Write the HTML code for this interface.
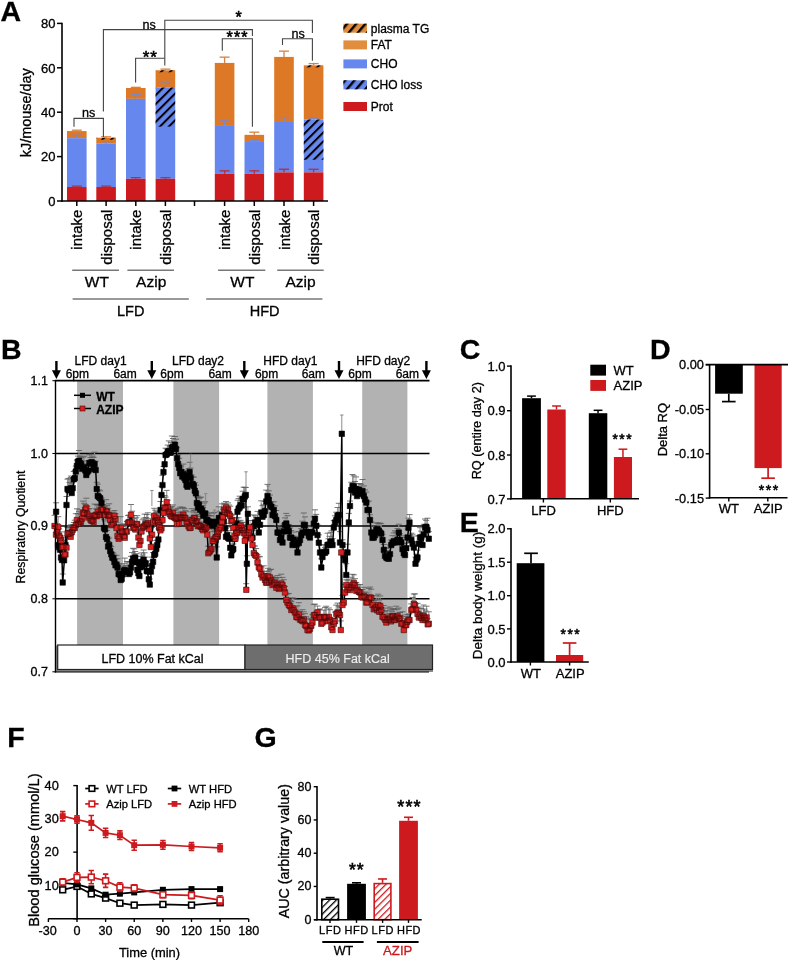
<!DOCTYPE html>
<html><head><meta charset="utf-8"><style>
html,body{margin:0;padding:0;background:#fff;}
svg{display:block;font-family:"Liberation Sans", sans-serif;will-change:transform;}
text{stroke:#000;stroke-width:0.3px;}
text[fill="#cc1a1e"]{stroke:#cc1a1e;}
text[fill="#eee"]{stroke:#eee;stroke-width:0.15px;}
</style></head><body>
<svg width="789" height="960" viewBox="0 0 789 960">
<defs>
<pattern id="hatchA" patternUnits="userSpaceOnUse" width="6.3" height="6.3" patternTransform="rotate(45)"><rect width="2.0" height="6.3" fill="#000"/></pattern>
<pattern id="hatchL" patternUnits="userSpaceOnUse" width="7" height="7" patternTransform="rotate(40)"><rect width="2.4" height="7" fill="#000"/></pattern>
<pattern id="hatchGk" patternUnits="userSpaceOnUse" width="4.8" height="4.8" patternTransform="rotate(45)"><rect width="4.8" height="4.8" fill="#fff"/><rect width="1.3" height="4.8" fill="#000"/></pattern>
<pattern id="hatchGr" patternUnits="userSpaceOnUse" width="4.8" height="4.8" patternTransform="rotate(45)"><rect width="4.8" height="4.8" fill="#fff"/><rect width="1.3" height="4.8" fill="#cc1a1e"/></pattern>
</defs>
<rect width="789" height="960" fill="#fff"/>
<text x="0.45" y="20.9" font-size="28.5" text-anchor="start" font-weight="bold" fill="#000" >A</text>
<line x1="62" y1="22.7" x2="62" y2="201.7" stroke="#000" stroke-width="1.6" />
<line x1="57" y1="201.0" x2="62" y2="201.0" stroke="#000" stroke-width="1.5" />
<text x="55.5" y="205.7" font-size="13" text-anchor="end" font-weight="normal" fill="#000" >0</text>
<line x1="57" y1="156.60000000000002" x2="62" y2="156.60000000000002" stroke="#000" stroke-width="1.5" />
<text x="55.5" y="161.3" font-size="13" text-anchor="end" font-weight="normal" fill="#000" >20</text>
<line x1="57" y1="112.20000000000002" x2="62" y2="112.20000000000002" stroke="#000" stroke-width="1.5" />
<text x="55.5" y="116.90000000000002" font-size="13" text-anchor="end" font-weight="normal" fill="#000" >40</text>
<line x1="57" y1="67.80000000000001" x2="62" y2="67.80000000000001" stroke="#000" stroke-width="1.5" />
<text x="55.5" y="72.50000000000001" font-size="13" text-anchor="end" font-weight="normal" fill="#000" >60</text>
<line x1="57" y1="23.400000000000034" x2="62" y2="23.400000000000034" stroke="#000" stroke-width="1.5" />
<text x="55.5" y="28.100000000000033" font-size="13" text-anchor="end" font-weight="normal" fill="#000" >80</text>
<text x="31.4" y="112.8" font-size="14.4" text-anchor="middle" font-weight="normal" fill="#000" transform="rotate(-90 31.4 112.8)" >kJ/mouse/day</text>
<rect x="67.0" y="131.07" width="19.6" height="7.104000000000013" fill="#dc7826" />
<rect x="67.0" y="138.174" width="19.6" height="48.84" fill="#6688ee" />
<rect x="67.0" y="187.014" width="19.6" height="13.98599999999999" fill="#cc1a1e" />
<line x1="76.8" y1="187.014" x2="76.8" y2="186.126" stroke="#b03040" stroke-width="1.3" />
<line x1="71.8" y1="186.126" x2="81.8" y2="186.126" stroke="#b03040" stroke-width="1.3" />
<line x1="76.8" y1="138.174" x2="76.8" y2="135.288" stroke="#7a88c8" stroke-width="1.3" />
<line x1="71.8" y1="135.288" x2="81.8" y2="135.288" stroke="#7a88c8" stroke-width="1.3" />
<line x1="76.8" y1="131.07" x2="76.8" y2="130.18200000000002" stroke="#d88040" stroke-width="1.3" />
<line x1="71.8" y1="130.18200000000002" x2="81.8" y2="130.18200000000002" stroke="#d88040" stroke-width="1.3" />
<rect x="96.3" y="137.73000000000002" width="19.6" height="5.993999999999971" fill="#dc7826" />
<rect x="96.3" y="143.724" width="19.6" height="43.29000000000002" fill="#6688ee" />
<rect x="96.3" y="187.014" width="19.6" height="13.98599999999999" fill="#cc1a1e" />
<rect x="96.3" y="137.73000000000002" width="19.6" height="2" fill="url(#hatchA)" />
<line x1="106.1" y1="187.014" x2="106.1" y2="186.126" stroke="#b03040" stroke-width="1.3" />
<line x1="101.1" y1="186.126" x2="111.1" y2="186.126" stroke="#b03040" stroke-width="1.3" />
<line x1="106.1" y1="143.724" x2="106.1" y2="141.726" stroke="#7a88c8" stroke-width="1.3" />
<line x1="101.1" y1="141.726" x2="111.1" y2="141.726" stroke="#7a88c8" stroke-width="1.3" />
<line x1="106.1" y1="137.73000000000002" x2="106.1" y2="136.842" stroke="#d88040" stroke-width="1.3" />
<line x1="101.1" y1="136.842" x2="111.1" y2="136.842" stroke="#d88040" stroke-width="1.3" />
<rect x="126.0" y="88.00200000000001" width="19.6" height="10.878" fill="#dc7826" />
<rect x="126.0" y="98.88000000000001" width="19.6" height="79.92" fill="#6688ee" />
<rect x="126.0" y="178.8" width="19.6" height="22.19999999999999" fill="#cc1a1e" />
<line x1="135.8" y1="178.8" x2="135.8" y2="177.69" stroke="#b03040" stroke-width="1.3" />
<line x1="130.8" y1="177.69" x2="140.8" y2="177.69" stroke="#b03040" stroke-width="1.3" />
<line x1="135.8" y1="98.88000000000001" x2="135.8" y2="94.44000000000001" stroke="#7a88c8" stroke-width="1.3" />
<line x1="130.8" y1="94.44000000000001" x2="140.8" y2="94.44000000000001" stroke="#7a88c8" stroke-width="1.3" />
<line x1="135.8" y1="88.00200000000001" x2="135.8" y2="87.33600000000003" stroke="#d88040" stroke-width="1.3" />
<line x1="130.8" y1="87.33600000000003" x2="140.8" y2="87.33600000000003" stroke="#d88040" stroke-width="1.3" />
<rect x="155.6" y="70.24200000000002" width="19.6" height="17.31599999999999" fill="#dc7826" />
<rect x="155.6" y="87.558" width="19.6" height="91.242" fill="#6688ee" />
<rect x="155.6" y="178.8" width="19.6" height="22.19999999999999" fill="#cc1a1e" />
<rect x="155.6" y="87.558" width="19.6" height="39.072" fill="url(#hatchA)" />
<rect x="155.6" y="70.24200000000002" width="19.6" height="2" fill="url(#hatchA)" />
<line x1="165.4" y1="178.8" x2="165.4" y2="177.69" stroke="#b03040" stroke-width="1.3" />
<line x1="160.4" y1="177.69" x2="170.4" y2="177.69" stroke="#b03040" stroke-width="1.3" />
<line x1="165.4" y1="87.558" x2="165.4" y2="83.11800000000001" stroke="#7a88c8" stroke-width="1.3" />
<line x1="160.4" y1="83.11800000000001" x2="170.4" y2="83.11800000000001" stroke="#7a88c8" stroke-width="1.3" />
<line x1="165.4" y1="70.24200000000002" x2="165.4" y2="69.132" stroke="#d88040" stroke-width="1.3" />
<line x1="160.4" y1="69.132" x2="170.4" y2="69.132" stroke="#d88040" stroke-width="1.3" />
<rect x="214.8" y="62.916" width="19.6" height="62.16000000000001" fill="#dc7826" />
<rect x="214.8" y="125.07600000000001" width="19.6" height="48.61800000000001" fill="#6688ee" />
<rect x="214.8" y="173.69400000000002" width="19.6" height="27.305999999999983" fill="#cc1a1e" />
<line x1="224.60000000000002" y1="173.69400000000002" x2="224.60000000000002" y2="170.808" stroke="#b03040" stroke-width="1.3" />
<line x1="219.60000000000002" y1="170.808" x2="229.60000000000002" y2="170.808" stroke="#b03040" stroke-width="1.3" />
<line x1="224.60000000000002" y1="125.07600000000001" x2="224.60000000000002" y2="120.858" stroke="#7a88c8" stroke-width="1.3" />
<line x1="219.60000000000002" y1="120.858" x2="229.60000000000002" y2="120.858" stroke="#7a88c8" stroke-width="1.3" />
<line x1="224.60000000000002" y1="62.916" x2="224.60000000000002" y2="57.144000000000034" stroke="#d88040" stroke-width="1.3" />
<line x1="219.60000000000002" y1="57.144000000000034" x2="229.60000000000002" y2="57.144000000000034" stroke="#d88040" stroke-width="1.3" />
<rect x="244.5" y="134.844" width="19.6" height="7.104000000000013" fill="#dc7826" />
<rect x="244.5" y="141.948" width="19.6" height="31.74600000000001" fill="#6688ee" />
<rect x="244.5" y="173.69400000000002" width="19.6" height="27.305999999999983" fill="#cc1a1e" />
<line x1="254.3" y1="173.69400000000002" x2="254.3" y2="170.808" stroke="#b03040" stroke-width="1.3" />
<line x1="249.3" y1="170.808" x2="259.3" y2="170.808" stroke="#b03040" stroke-width="1.3" />
<line x1="254.3" y1="141.948" x2="254.3" y2="140.61599999999999" stroke="#7a88c8" stroke-width="1.3" />
<line x1="249.3" y1="140.61599999999999" x2="259.3" y2="140.61599999999999" stroke="#7a88c8" stroke-width="1.3" />
<line x1="254.3" y1="134.844" x2="254.3" y2="132.18" stroke="#d88040" stroke-width="1.3" />
<line x1="249.3" y1="132.18" x2="259.3" y2="132.18" stroke="#d88040" stroke-width="1.3" />
<rect x="274.2" y="56.922" width="19.6" height="65.046" fill="#dc7826" />
<rect x="274.2" y="121.968" width="19.6" height="50.39399999999999" fill="#6688ee" />
<rect x="274.2" y="172.362" width="19.6" height="28.638000000000005" fill="#cc1a1e" />
<line x1="284.0" y1="172.362" x2="284.0" y2="169.254" stroke="#b03040" stroke-width="1.3" />
<line x1="279.0" y1="169.254" x2="289.0" y2="169.254" stroke="#b03040" stroke-width="1.3" />
<line x1="284.0" y1="121.968" x2="284.0" y2="117.528" stroke="#7a88c8" stroke-width="1.3" />
<line x1="279.0" y1="117.528" x2="289.0" y2="117.528" stroke="#7a88c8" stroke-width="1.3" />
<line x1="284.0" y1="56.922" x2="284.0" y2="51.150000000000006" stroke="#d88040" stroke-width="1.3" />
<line x1="279.0" y1="51.150000000000006" x2="289.0" y2="51.150000000000006" stroke="#d88040" stroke-width="1.3" />
<rect x="303.8" y="65.358" width="19.6" height="54.16799999999999" fill="#dc7826" />
<rect x="303.8" y="119.526" width="19.6" height="52.836" fill="#6688ee" />
<rect x="303.8" y="172.362" width="19.6" height="28.638000000000005" fill="#cc1a1e" />
<rect x="303.8" y="119.526" width="19.6" height="40.182" fill="url(#hatchA)" />
<rect x="303.8" y="65.358" width="19.6" height="2" fill="url(#hatchA)" />
<line x1="313.6" y1="172.362" x2="313.6" y2="169.254" stroke="#b03040" stroke-width="1.3" />
<line x1="308.6" y1="169.254" x2="318.6" y2="169.254" stroke="#b03040" stroke-width="1.3" />
<line x1="313.6" y1="119.526" x2="313.6" y2="118.194" stroke="#7a88c8" stroke-width="1.3" />
<line x1="308.6" y1="118.194" x2="318.6" y2="118.194" stroke="#7a88c8" stroke-width="1.3" />
<line x1="313.6" y1="65.358" x2="313.6" y2="63.58200000000002" stroke="#d88040" stroke-width="1.3" />
<line x1="308.6" y1="63.58200000000002" x2="318.6" y2="63.58200000000002" stroke="#d88040" stroke-width="1.3" />
<line x1="61.2" y1="201.0" x2="328" y2="201.0" stroke="#000" stroke-width="1.6" />
<line x1="76.8" y1="201.0" x2="76.8" y2="206" stroke="#000" stroke-width="1.5" />
<line x1="106.1" y1="201.0" x2="106.1" y2="206" stroke="#000" stroke-width="1.5" />
<line x1="135.8" y1="201.0" x2="135.8" y2="206" stroke="#000" stroke-width="1.5" />
<line x1="165.4" y1="201.0" x2="165.4" y2="206" stroke="#000" stroke-width="1.5" />
<line x1="194.5" y1="201.0" x2="194.5" y2="206" stroke="#000" stroke-width="1.5" />
<line x1="224.6" y1="201.0" x2="224.6" y2="206" stroke="#000" stroke-width="1.5" />
<line x1="254.3" y1="201.0" x2="254.3" y2="206" stroke="#000" stroke-width="1.5" />
<line x1="284.0" y1="201.0" x2="284.0" y2="206" stroke="#000" stroke-width="1.5" />
<line x1="313.6" y1="201.0" x2="313.6" y2="206" stroke="#000" stroke-width="1.5" />
<text x="82.39999999999999" y="209.6" font-size="15" text-anchor="end" font-weight="normal" fill="#000" transform="rotate(-90 82.39999999999999 209.6)" >intake</text>
<text x="111.69999999999999" y="209.6" font-size="15" text-anchor="end" font-weight="normal" fill="#000" transform="rotate(-90 111.69999999999999 209.6)" >disposal</text>
<text x="141.4" y="209.6" font-size="15" text-anchor="end" font-weight="normal" fill="#000" transform="rotate(-90 141.4 209.6)" >intake</text>
<text x="171.0" y="209.6" font-size="15" text-anchor="end" font-weight="normal" fill="#000" transform="rotate(-90 171.0 209.6)" >disposal</text>
<text x="230.20000000000002" y="209.6" font-size="15" text-anchor="end" font-weight="normal" fill="#000" transform="rotate(-90 230.20000000000002 209.6)" >intake</text>
<text x="259.90000000000003" y="209.6" font-size="15" text-anchor="end" font-weight="normal" fill="#000" transform="rotate(-90 259.90000000000003 209.6)" >disposal</text>
<text x="289.6" y="209.6" font-size="15" text-anchor="end" font-weight="normal" fill="#000" transform="rotate(-90 289.6 209.6)" >intake</text>
<text x="319.20000000000005" y="209.6" font-size="15" text-anchor="end" font-weight="normal" fill="#000" transform="rotate(-90 319.20000000000005 209.6)" >disposal</text>
<line x1="72.2" y1="270.2" x2="119" y2="270.2" stroke="#777" stroke-width="1.4" />
<text x="96.9" y="286.5" font-size="15.5" text-anchor="middle" font-weight="normal" fill="#000" >WT</text>
<line x1="127.4" y1="270.2" x2="174" y2="270.2" stroke="#777" stroke-width="1.4" />
<text x="151.2" y="286.5" font-size="15.5" text-anchor="middle" font-weight="normal" fill="#000" >Azip</text>
<line x1="218.1" y1="270.2" x2="265.3" y2="270.2" stroke="#777" stroke-width="1.4" />
<text x="242.4" y="286.5" font-size="15.5" text-anchor="middle" font-weight="normal" fill="#000" >WT</text>
<line x1="277.2" y1="270.2" x2="323.7" y2="270.2" stroke="#777" stroke-width="1.4" />
<text x="300.5" y="286.5" font-size="15.5" text-anchor="middle" font-weight="normal" fill="#000" >Azip</text>
<line x1="72.6" y1="299" x2="188.8" y2="299" stroke="#777" stroke-width="1.4" />
<text x="130.7" y="316.2" font-size="14.5" text-anchor="middle" font-weight="normal" fill="#000" >LFD</text>
<line x1="206.2" y1="299" x2="322.4" y2="299" stroke="#777" stroke-width="1.4" />
<text x="264.6" y="316.2" font-size="14.5" text-anchor="middle" font-weight="normal" fill="#000" >HFD</text>
<path d="M103.4,111.5 V29.6 H252.4 V36" stroke="#444" stroke-width="1.1" fill="none" />
<path d="M164.8,65.4 V20.2 H312.4 V33" stroke="#444" stroke-width="1.1" fill="none" />
<path d="M74,126.7 V118.4 H103.4 V136.9" stroke="#444" stroke-width="1.1" fill="none" />
<path d="M135.6,82.4 V58.3 H164.8" stroke="#444" stroke-width="1.1" fill="none" />
<path d="M222.3,50.7 V38.7 H252.4 V126.7" stroke="#444" stroke-width="1.1" fill="none" />
<path d="M282.5,45 V38.7 H312.4 V60.8" stroke="#444" stroke-width="1.1" fill="none" />
<text x="149.2" y="28.6" font-size="12.6" text-anchor="middle" font-weight="normal" fill="#000" >ns</text>
<text x="235.4" y="22.8" font-size="16" text-anchor="start" font-weight="normal" fill="#000" style="stroke-width:0.6px">*</text>
<text x="142.8" y="62.8" font-size="17" text-anchor="start" font-weight="normal" fill="#000" letter-spacing="0.8" style="stroke-width:0.6px">**</text>
<text x="226.6" y="42.9" font-size="16" text-anchor="start" font-weight="normal" fill="#000" letter-spacing="1.1" style="stroke-width:0.6px">***</text>
<text x="298.2" y="37.7" font-size="12.6" text-anchor="middle" font-weight="normal" fill="#000" >ns</text>
<text x="88.7" y="117.1" font-size="12.6" text-anchor="middle" font-weight="normal" fill="#000" >ns</text>
<rect x="343.4" y="23.7" width="23.6" height="9" fill="#e08d3e" />
<rect x="343.4" y="23.7" width="23.6" height="9" fill="url(#hatchL)" />
<text x="370.8" y="32.7" font-size="12" text-anchor="start" font-weight="normal" fill="#000" >plasma TG</text>
<rect x="343.4" y="40.4" width="23.6" height="9" fill="#e08d3e" />
<text x="370.8" y="49.4" font-size="12" text-anchor="start" font-weight="normal" fill="#000" >FAT</text>
<rect x="343.4" y="59.4" width="23.6" height="9" fill="#6688ee" />
<text x="370.8" y="68.4" font-size="12" text-anchor="start" font-weight="normal" fill="#000" >CHO</text>
<rect x="343.4" y="80.3" width="23.6" height="9" fill="#6688ee" />
<rect x="343.4" y="80.3" width="23.6" height="9" fill="url(#hatchL)" />
<text x="370.8" y="89.3" font-size="12" text-anchor="start" font-weight="normal" fill="#000" >CHO loss</text>
<rect x="343.4" y="102.0" width="23.6" height="9" fill="#cc1a1e" />
<text x="370.8" y="111.0" font-size="12" text-anchor="start" font-weight="normal" fill="#000" >Prot</text>
<rect x="77.1" y="381" width="45.9" height="264.0" fill="#b2b2b2"/>
<rect x="173.4" y="381" width="45.7" height="264.0" fill="#b2b2b2"/>
<rect x="267.4" y="381" width="45.5" height="264.0" fill="#b2b2b2"/>
<rect x="362.2" y="381" width="45.2" height="264.0" fill="#b2b2b2"/>
<line x1="55.5" y1="453.5" x2="429.5" y2="453.5" stroke="#000" stroke-width="1.4"/>
<line x1="55.5" y1="526" x2="429.5" y2="526" stroke="#000" stroke-width="1.4"/>
<line x1="55.5" y1="598.8" x2="429.5" y2="598.8" stroke="#000" stroke-width="1.4"/>
<path d="M56.1,511.7V502.8M57.0,530.0V523.7M58.0,545.0V536.7M59.0,547.3V535.8M60.0,549.7V544.0M61.0,557.5V546.7M62.0,560.0V552.0M62.7,582.5V574.0M64.1,560.3V549.5M65.5,545.0V537.2M66.5,505.0V496.5M67.5,489.0V479.2M68.5,490.3V478.4M69.6,489.9V482.5M70.7,488.5V477.6M71.7,493.0V483.1M72.7,488.1V478.6M73.8,479.3V471.5M74.8,478.0V470.6M75.8,471.5V466.1M76.9,466.0V460.1M77.9,461.6V456.1M79.0,460.7V450.5M80.0,463.0V456.2M81.1,464.1V457.9M82.1,468.9V463.4M83.2,468.0V457.1M84.2,467.3V456.2M85.3,470.5V460.8M86.3,475.0V468.0M87.3,472.0V465.3M88.4,470.6V463.5M89.4,463.0V454.8M90.4,463.6V457.5M91.5,462.2V454.1M92.5,463.0V456.2M93.6,469.1V457.4M94.6,464.0V452.2M95.7,470.0V461.2M96.7,489.0V482.3M97.8,495.9V484.1M98.8,497.0V489.8M100.2,498.3V490.8M101.5,503.0V498.0M102.8,512.7V505.0M104.0,528.0V519.7M105.0,529.4V520.9M106.0,537.0V530.6M107.1,539.0V530.4M108.1,546.5V541.5M109.2,544.9V538.1M110.2,551.0V545.4M111.3,554.4V546.6M112.3,557.6V552.3M113.4,558.2V553.1M114.4,562.0V554.9M115.5,565.4V558.8M116.5,564.5V555.4M117.5,567.5V558.8M118.6,574.0V563.7M119.7,574.6V565.0M120.7,580.0V570.0M121.7,578.9V567.8M122.8,574.4V566.7M123.8,571.0V563.7M124.8,570.0V558.1M125.8,571.7V565.6M126.9,571.6V561.6M128.0,571.4V561.9M129.0,574.0V568.7M130.0,572.4V561.5M131.0,567.6V556.3M132.0,562.0V552.6M133.1,558.5V548.3M134.2,559.6V548.9M135.2,557.5V551.5M136.3,562.3V553.7M137.3,569.8V561.2M138.4,573.2V562.4M139.4,576.0V565.4M140.4,567.3V556.5M141.5,562.0V552.9M142.6,566.3V555.0M143.6,559.8V550.0M144.6,562.7V552.8M145.7,563.8V557.1M146.7,571.0V565.8M147.8,571.4V565.5M148.8,579.3V571.8M149.8,584.6V578.9M150.9,571.6V560.8M152.0,566.0V557.1M153.1,561.8V552.5M154.2,555.0V545.6M155.2,553.8V544.0M156.3,548.9V540.5M157.3,545.0V540.0M158.4,539.5V528.9M159.4,528.0V517.8M160.4,510.0V501.5M161.5,495.0V486.3M162.5,485.1V475.4M163.5,472.0V466.5M164.6,464.3V454.1M165.6,455.0V448.2M166.7,454.3V448.8M167.7,452.0V445.1M168.8,451.0V440.9M169.8,452.7V446.3M170.8,452.6V442.4M171.9,447.8V436.0M172.9,447.0V438.5M173.9,449.0V441.3M175.0,444.8V436.5M176.0,449.0V439.2M177.1,458.1V447.7M178.1,464.0V454.7M179.2,467.8V458.3M180.2,473.3V467.7M181.2,472.0V466.0M182.3,476.6V469.8M183.3,474.3V464.1M184.4,478.0V470.9M185.4,480.0V471.0M186.5,485.1V480.1M187.5,486.7V481.3M188.6,475.5V468.6M189.6,472.0V462.3M190.6,478.0V468.1M191.7,484.6V474.9M192.7,484.0V477.0M193.8,485.7V477.1M194.8,490.8V482.5M195.9,493.4V485.1M196.9,503.0V497.2M197.9,507.3V496.1M199.0,504.4V498.0M200.0,509.6V497.8M201.1,508.6V497.1M202.1,510.8V505.7M203.1,515.7V507.5M204.2,513.8V503.0M205.2,513.5V501.7M206.2,520.0V511.9M207.3,520.1V513.2M208.3,521.4V514.9M209.4,524.6V512.9M210.4,522.0V515.5M211.4,525.1V516.0M212.5,525.9V519.9M213.6,521.7V513.1M214.6,524.0V512.3M215.6,540.1V534.1M216.7,557.5V546.8M217.7,536.6V528.1M218.8,518.0V506.8M219.8,521.1V511.2M220.8,521.7V515.0M221.9,515.2V503.9M222.9,518.0V509.6M223.9,521.6V516.5M225.0,528.3V523.3M226.0,536.7V528.3M227.1,535.3V527.1M228.1,537.9V530.8M229.2,538.8V532.8M230.2,547.8V540.4M231.2,555.4V548.2M232.3,550.3V539.4M233.3,549.0V544.0M234.4,538.9V528.6M235.4,536.7V525.8M236.4,523.6V517.7M237.5,511.7V500.2M238.6,508.6V498.6M239.6,507.5V496.2M240.6,505.2V498.2M241.7,505.5V497.9M242.7,499.0V491.2M243.7,499.2V487.2M244.8,496.5V487.3M245.8,495.0V487.5M246.9,563.8V555.8M247.9,513.8V506.8M248.8,535.0V529.7M250.0,536.8V531.1M251.2,538.1V527.2M252.5,537.5V530.5M253.8,526.4V514.9M255.0,522.5V515.8M256.2,524.4V517.6M257.5,520.0V511.4M258.8,532.5V526.2M260.0,524.7V517.1M261.2,512.5V500.8M262.5,516.7V505.6M263.8,515.0V504.3M265.0,511.0V501.6M266.2,501.5V490.1M267.5,496.0V484.4M268.8,499.7V490.8M270.0,505.0V495.0M271.2,506.8V501.5M272.5,515.0V504.9M273.8,510.0V501.8M275.0,516.1V505.8M276.2,520.0V510.5M277.5,532.5V525.5M278.8,532.7V527.4M280.0,540.0V528.5M281.2,537.8V531.9M282.5,542.5V534.2M283.8,531.4V524.0M285.0,525.0V517.9M286.2,523.5V513.4M287.5,527.5V515.7M288.8,531.2V524.4M290.0,537.5V527.9M291.2,537.7V530.6M292.5,545.0V536.1M293.8,539.8V532.0M295.0,542.5V536.3M296.2,544.7V538.6M297.5,552.5V546.0M298.8,543.1V531.7M300.0,540.0V531.5M301.2,535.2V528.6M302.5,532.5V521.2M303.8,525.0V513.0M305.0,525.0V516.9M306.2,531.7V525.8M307.5,532.5V526.2M308.8,535.9V530.3M310.0,537.5V530.1M311.2,532.2V526.6M312.5,532.5V525.8M313.8,523.6V516.8M315.0,518.8V509.8M316.2,525.7V514.4M317.5,535.0V524.8M318.8,542.7V534.8M320.0,552.5V544.6M321.2,567.5V558.8M322.5,557.0V549.3M323.8,552.5V545.1M325.0,552.8V547.4M326.2,551.4V544.5M327.5,545.0V533.2M328.5,544.7V538.8M329.5,544.9V536.3M330.5,541.7V532.3M331.5,541.8V530.8M332.5,545.0V538.5M333.8,527.5V520.6M335.0,522.5V515.8M336.2,520.0V512.2M337.5,515.6V507.5M338.8,515.0V503.3M340.0,542.5V531.6M342.5,545.0V539.8M343.8,555.1V549.9M345.0,560.0V550.0M346.2,575.0V563.7M347.5,552.5V544.2M348.8,522.5V513.4M350.0,506.0V501.0M351.2,490.0V482.3M352.5,486.0V474.5M353.8,486.5V475.8M355.0,492.5V481.5M356.0,488.7V476.9M357.0,496.1V489.4M358.0,492.7V487.0M359.0,489.7V483.6M360.0,492.5V483.8M361.2,494.0V484.2M362.5,491.0V479.5M363.8,496.0V485.9M365.0,499.5V489.9M366.2,502.5V492.1M367.5,510.1V501.9M368.8,510.0V501.1M370.0,520.0V514.7M371.2,532.5V522.0M372.5,537.9V531.3M373.8,537.5V526.1M375.0,535.3V525.8M376.2,530.0V522.9M377.5,528.9V523.0M378.8,530.6V523.8M380.0,532.5V523.0M381.2,533.6V523.7M382.5,540.0V534.2M383.8,550.0V544.5M385.0,555.9V547.3M386.2,557.5V548.4M387.5,558.4V550.7M388.8,558.8V552.2M390.0,554.1V544.9M391.2,545.0V539.9M392.5,542.8V535.7M393.8,541.1V532.9M395.0,542.5V530.8M396.2,541.7V532.1M397.5,539.7V528.5M398.8,532.5V524.2M400.0,540.3V533.7M401.2,542.5V535.8M402.5,549.1V537.4M403.8,553.4V543.4M405.0,555.0V547.8M406.2,548.2V543.0M407.5,537.5V529.0M408.5,527.8V518.1M409.5,522.5V514.6M411.2,540.0V533.2M412.5,543.9V534.2M413.8,547.5V536.0M415.5,563.8V557.2M416.5,559.5V554.2M417.5,557.5V550.1M418.8,543.7V535.8M420.0,537.5V527.7M421.2,537.5V531.1M422.5,545.0V534.4M423.8,534.5V524.3M425.0,527.5V519.0M426.2,526.8V520.4M427.5,530.0V518.2M428.8,538.8V531.6" stroke="#999" stroke-width="1.1" fill="none"/>
<path d="M53.1,502.8h6M54.0,523.7h6M55.0,536.7h6M56.0,535.8h6M57.0,544.0h6M58.0,546.7h6M59.0,552.0h6M59.7,574.0h6M61.1,549.5h6M62.5,537.2h6M63.5,496.5h6M64.5,479.2h6M65.5,478.4h6M66.6,482.5h6M67.7,477.6h6M68.7,483.1h6M69.7,478.6h6M70.8,471.5h6M71.8,470.6h6M72.8,466.1h6M73.9,460.1h6M74.9,456.1h6M76.0,450.5h6M77.0,456.2h6M78.1,457.9h6M79.1,463.4h6M80.2,457.1h6M81.2,456.2h6M82.3,460.8h6M83.3,468.0h6M84.3,465.3h6M85.4,463.5h6M86.4,454.8h6M87.4,457.5h6M88.5,454.1h6M89.5,456.2h6M90.6,457.4h6M91.6,452.2h6M92.7,461.2h6M93.7,482.3h6M94.8,484.1h6M95.8,489.8h6M97.2,490.8h6M98.5,498.0h6M99.8,505.0h6M101.0,519.7h6M102.0,520.9h6M103.0,530.6h6M104.1,530.4h6M105.1,541.5h6M106.2,538.1h6M107.2,545.4h6M108.3,546.6h6M109.3,552.3h6M110.4,553.1h6M111.4,554.9h6M112.5,558.8h6M113.5,555.4h6M114.5,558.8h6M115.6,563.7h6M116.7,565.0h6M117.7,570.0h6M118.7,567.8h6M119.8,566.7h6M120.8,563.7h6M121.8,558.1h6M122.8,565.6h6M123.9,561.6h6M125.0,561.9h6M126.0,568.7h6M127.0,561.5h6M128.0,556.3h6M129.0,552.6h6M130.1,548.3h6M131.2,548.9h6M132.2,551.5h6M133.3,553.7h6M134.3,561.2h6M135.4,562.4h6M136.4,565.4h6M137.4,556.5h6M138.5,552.9h6M139.6,555.0h6M140.6,550.0h6M141.6,552.8h6M142.7,557.1h6M143.7,565.8h6M144.8,565.5h6M145.8,571.8h6M146.8,578.9h6M147.9,560.8h6M149.0,557.1h6M150.1,552.5h6M151.2,545.6h6M152.2,544.0h6M153.3,540.5h6M154.3,540.0h6M155.4,528.9h6M156.4,517.8h6M157.4,501.5h6M158.5,486.3h6M159.5,475.4h6M160.5,466.5h6M161.6,454.1h6M162.6,448.2h6M163.7,448.8h6M164.7,445.1h6M165.8,440.9h6M166.8,446.3h6M167.8,442.4h6M168.9,436.0h6M169.9,438.5h6M170.9,441.3h6M172.0,436.5h6M173.0,439.2h6M174.1,447.7h6M175.1,454.7h6M176.2,458.3h6M177.2,467.7h6M178.2,466.0h6M179.3,469.8h6M180.3,464.1h6M181.4,470.9h6M182.4,471.0h6M183.5,480.1h6M184.5,481.3h6M185.6,468.6h6M186.6,462.3h6M187.6,468.1h6M188.7,474.9h6M189.7,477.0h6M190.8,477.1h6M191.8,482.5h6M192.9,485.1h6M193.9,497.2h6M194.9,496.1h6M196.0,498.0h6M197.0,497.8h6M198.1,497.1h6M199.1,505.7h6M200.1,507.5h6M201.2,503.0h6M202.2,501.7h6M203.2,511.9h6M204.3,513.2h6M205.3,514.9h6M206.4,512.9h6M207.4,515.5h6M208.4,516.0h6M209.5,519.9h6M210.6,513.1h6M211.6,512.3h6M212.6,534.1h6M213.7,546.8h6M214.7,528.1h6M215.8,506.8h6M216.8,511.2h6M217.8,515.0h6M218.9,503.9h6M219.9,509.6h6M220.9,516.5h6M222.0,523.3h6M223.0,528.3h6M224.1,527.1h6M225.1,530.8h6M226.2,532.8h6M227.2,540.4h6M228.2,548.2h6M229.3,539.4h6M230.3,544.0h6M231.4,528.6h6M232.4,525.8h6M233.4,517.7h6M234.5,500.2h6M235.6,498.6h6M236.6,496.2h6M237.6,498.2h6M238.7,497.9h6M239.7,491.2h6M240.7,487.2h6M241.8,487.3h6M242.8,487.5h6M243.9,555.8h6M244.9,506.8h6M245.8,529.7h6M247.0,531.1h6M248.2,527.2h6M249.5,530.5h6M250.8,514.9h6M252.0,515.8h6M253.2,517.6h6M254.5,511.4h6M255.8,526.2h6M257.0,517.1h6M258.2,500.8h6M259.5,505.6h6M260.8,504.3h6M262.0,501.6h6M263.2,490.1h6M264.5,484.4h6M265.8,490.8h6M267.0,495.0h6M268.2,501.5h6M269.5,504.9h6M270.8,501.8h6M272.0,505.8h6M273.2,510.5h6M274.5,525.5h6M275.8,527.4h6M277.0,528.5h6M278.2,531.9h6M279.5,534.2h6M280.8,524.0h6M282.0,517.9h6M283.2,513.4h6M284.5,515.7h6M285.8,524.4h6M287.0,527.9h6M288.2,530.6h6M289.5,536.1h6M290.8,532.0h6M292.0,536.3h6M293.2,538.6h6M294.5,546.0h6M295.8,531.7h6M297.0,531.5h6M298.2,528.6h6M299.5,521.2h6M300.8,513.0h6M302.0,516.9h6M303.2,525.8h6M304.5,526.2h6M305.8,530.3h6M307.0,530.1h6M308.2,526.6h6M309.5,525.8h6M310.8,516.8h6M312.0,509.8h6M313.2,514.4h6M314.5,524.8h6M315.8,534.8h6M317.0,544.6h6M318.2,558.8h6M319.5,549.3h6M320.8,545.1h6M322.0,547.4h6M323.2,544.5h6M324.5,533.2h6M325.5,538.8h6M326.5,536.3h6M327.5,532.3h6M328.5,530.8h6M329.5,538.5h6M330.8,520.6h6M332.0,515.8h6M333.2,512.2h6M334.5,507.5h6M335.8,503.3h6M337.0,531.6h6M339.5,539.8h6M340.8,549.9h6M342.0,550.0h6M343.2,563.7h6M344.5,544.2h6M345.8,513.4h6M347.0,501.0h6M348.2,482.3h6M349.5,474.5h6M350.8,475.8h6M352.0,481.5h6M353.0,476.9h6M354.0,489.4h6M355.0,487.0h6M356.0,483.6h6M357.0,483.8h6M358.2,484.2h6M359.5,479.5h6M360.8,485.9h6M362.0,489.9h6M363.2,492.1h6M364.5,501.9h6M365.8,501.1h6M367.0,514.7h6M368.2,522.0h6M369.5,531.3h6M370.8,526.1h6M372.0,525.8h6M373.2,522.9h6M374.5,523.0h6M375.8,523.8h6M377.0,523.0h6M378.2,523.7h6M379.5,534.2h6M380.8,544.5h6M382.0,547.3h6M383.2,548.4h6M384.5,550.7h6M385.8,552.2h6M387.0,544.9h6M388.2,539.9h6M389.5,535.7h6M390.8,532.9h6M392.0,530.8h6M393.2,532.1h6M394.5,528.5h6M395.8,524.2h6M397.0,533.7h6M398.2,535.8h6M399.5,537.4h6M400.8,543.4h6M402.0,547.8h6M403.2,543.0h6M404.5,529.0h6M405.5,518.1h6M406.5,514.6h6M408.2,533.2h6M409.5,534.2h6M410.8,536.0h6M412.5,557.2h6M413.5,554.2h6M414.5,550.1h6M415.8,535.8h6M417.0,527.7h6M418.2,531.1h6M419.5,534.4h6M420.8,524.3h6M422.0,519.0h6M423.2,520.4h6M424.5,518.2h6M425.8,531.6h6" stroke="#555" stroke-width="0.8" fill="none"/>
<path d="M54.5,526.0V515.3M56.0,534.6V528.0M57.1,532.3V525.8M58.2,527.0V516.7M59.2,536.0V528.9M60.2,537.7V526.0M61.3,540.4V531.9M62.4,547.4V541.1M63.4,547.0V540.4M64.5,554.6V546.7M65.5,554.4V544.7M66.5,547.6V535.9M67.5,533.5V527.5M68.6,533.5V525.7M69.6,533.4V526.9M70.7,536.7V524.9M71.7,532.3V526.3M72.8,529.9V524.6M73.8,527.8V522.4M74.8,528.0V520.2M75.8,525.0V513.7M76.9,520.0V508.8M77.9,523.7V513.6M79.0,523.7V511.7M80.0,521.3V509.8M81.0,522.0V514.7M82.1,518.6V512.3M83.2,512.7V501.1M84.2,513.5V503.3M85.2,509.6V504.4M86.3,507.8V498.2M87.3,514.0V506.3M88.4,517.5V509.9M89.4,515.8V508.5M90.5,519.6V513.4M91.5,520.9V515.9M92.5,520.3V513.3M93.6,522.0V514.5M94.7,515.8V504.1M95.7,514.8V508.9M96.7,516.2V504.5M97.8,511.7V505.3M98.8,514.6V507.1M99.8,515.1V504.4M100.9,509.6V498.9M101.9,509.6V501.6M103.0,509.8V504.5M104.0,515.2V506.9M105.1,514.5V506.9M106.1,511.1V499.7M107.2,511.8V505.4M108.2,515.8V508.3M109.2,515.1V503.8M110.2,520.0V514.8M111.3,525.2V517.4M112.3,524.0V513.3M113.3,522.4V512.0M114.4,515.8V510.5M115.5,519.1V513.8M116.5,528.0V522.6M117.5,536.0V524.5M118.6,538.8V532.0M119.7,537.2V527.0M120.7,528.0V516.7M121.7,531.7V524.3M122.8,531.7V524.7M123.8,535.7V524.0M124.8,537.7V528.4M125.8,531.6V524.8M126.9,531.5V521.5M128.0,522.9V515.6M129.0,522.0V515.1M130.0,522.2V517.1M131.0,514.8V504.5M132.1,522.6V511.2M133.2,528.0V518.6M134.2,527.2V515.6M135.2,529.5V524.3M136.3,524.5V517.8M137.3,524.0V515.7M138.4,537.5V525.8M139.4,545.0V533.3M140.4,540.9V533.2M141.5,531.5V524.7M142.5,527.8V519.8M143.6,526.7V518.2M144.6,525.6V514.1M145.7,523.8V517.5M146.7,525.1V514.5M147.8,523.0V512.8M148.8,529.1V518.3M149.8,538.4V527.9M150.9,547.0V537.7M152.1,534.6V527.3M153.1,522.2V515.0M154.2,515.8V508.3M155.2,520.6V510.2M156.2,517.7V512.2M157.3,520.1V513.7M158.3,522.0V511.7M159.4,526.9V520.1M160.4,530.4V524.9M161.4,528.4V523.2M162.5,520.0V511.1M163.6,513.1V505.8M164.6,507.5V495.6M165.6,508.2V497.1M166.7,502.3V490.4M167.7,507.0V500.2M168.8,511.7V506.1M169.8,514.0V508.3M170.8,515.8V507.3M171.9,516.5V506.6M172.9,513.0V504.9M173.9,517.0V510.3M175.0,518.0V510.1M176.1,518.5V509.1M177.1,524.0V514.3M178.1,518.5V508.3M179.2,523.3V512.4M180.2,516.8V507.1M181.2,517.7V511.8M182.3,518.1V507.2M183.3,514.8V507.7M184.4,517.6V508.6M185.4,518.0V510.4M186.4,521.8V511.7M187.5,524.0V517.6M188.6,526.4V519.7M189.6,528.0V521.3M190.6,527.8V521.7M191.7,519.8V508.7M192.7,521.0V511.9M193.8,518.0V510.7M194.8,518.0V510.2M195.8,522.0V510.1M196.9,521.2V512.7M197.9,526.2V519.6M198.9,525.1V514.4M200.0,526.0V516.4M201.0,526.8V514.9M202.1,528.7V523.0M203.1,530.3V522.0M204.2,526.9V516.1M205.2,528.6V517.7M206.2,528.0V516.6M207.3,534.6V529.3M208.3,553.3V546.2M209.4,551.9V546.1M210.4,550.5V544.2M211.5,549.0V537.2M212.5,540.8V531.7M213.6,541.3V529.8M214.6,538.8V531.1M215.6,537.3V526.3M216.7,536.7V528.6M217.7,533.8V527.0M218.8,530.4V520.0M219.8,527.4V515.8M220.8,528.3V522.6M221.9,522.0V512.8M222.9,517.4V508.1M224.0,509.6V503.1M225.0,511.6V504.0M226.0,507.5V501.5M227.1,513.1V506.7M228.1,509.7V502.9M229.1,514.2V505.0M230.2,515.8V506.2M231.2,521.4V515.0M232.3,520.0V514.9M233.3,528.0V520.7M234.4,536.1V526.3M235.4,538.8V532.5M236.4,532.7V525.5M237.5,532.5V526.1M238.6,528.3V517.8M239.6,529.8V521.0M240.6,525.7V520.3M241.7,528.0V522.3M242.7,530.2V522.4M243.8,533.1V524.3M244.8,540.8V531.3M245.5,534.6V529.0M246.2,589.8V583.7M247.5,535.0V525.1M248.8,532.6V524.7M250.0,527.5V520.5M251.2,538.5V531.4M252.5,545.0V533.3M253.8,553.2V546.0M255.0,555.0V546.0M256.2,556.0V548.5M257.5,562.5V554.6M258.8,567.4V556.3M260.0,568.8V556.8M261.2,574.4V566.9M262.5,577.5V571.1M263.8,575.9V565.8M265.0,580.0V573.6M266.0,582.6V577.5M267.0,582.7V571.4M268.0,576.3V568.3M269.0,581.6V570.9M270.0,577.5V569.7M271.2,580.4V569.3M272.5,585.0V576.8M273.8,583.6V577.5M275.0,582.5V577.4M276.2,587.7V578.8M277.5,585.0V575.5M278.8,588.9V577.5M280.0,587.5V581.9M281.2,583.5V574.2M282.5,585.0V577.4M283.8,588.2V579.7M285.0,592.5V586.5M286.2,600.0V593.0M287.5,602.6V594.0M288.8,605.0V593.5M290.0,606.2V600.5M291.2,610.0V601.6M292.5,608.4V597.8M293.8,610.2V598.4M295.0,612.5V606.1M296.2,616.8V610.9M297.5,617.5V605.9M298.8,614.5V602.7M300.0,619.6V611.2M301.2,620.0V614.6M302.5,621.2V609.7M303.8,619.5V611.8M305.0,625.0V613.7M306.2,626.2V616.8M307.5,630.0V619.2M308.8,630.4V624.2M310.0,628.8V618.2M311.2,625.7V619.2M312.5,622.5V614.7M313.8,615.3V604.3M315.0,615.0V604.2M316.2,617.6V611.3M317.5,612.5V606.0M318.8,617.3V609.5M320.0,617.5V608.9M321.2,623.8V616.1M322.5,622.5V616.6M323.8,616.8V610.1M325.0,617.5V607.4M326.2,617.5V606.2M327.5,621.2V616.0M328.8,616.9V608.0M330.0,620.0V609.7M331.2,627.2V622.0M332.5,630.0V619.1M333.8,623.8V618.0M335.0,621.2V612.1M336.2,613.9V605.1M337.5,612.5V603.1M338.8,613.1V606.0M340.0,615.0V607.1M340.8,630.0V620.9M341.2,552.5V544.5M342.5,605.0V595.4M343.8,602.5V594.4M345.0,592.5V584.4M346.2,585.0V579.8M347.5,589.5V580.2M348.8,587.5V579.1M350.0,590.1V583.4M351.2,587.5V577.2M352.5,584.7V574.3M353.8,583.0V574.8M355.0,585.0V578.7M356.2,590.9V582.5M357.5,590.0V584.3M358.8,591.8V585.9M360.0,592.5V584.5M361.2,596.6V591.0M362.5,597.5V589.4M363.8,595.9V587.3M365.0,597.3V592.0M366.2,602.5V593.0M367.5,602.3V596.8M368.8,598.6V588.4M370.0,597.5V587.1M371.2,597.8V589.2M372.5,605.0V599.6M373.8,609.3V600.8M375.0,607.7V600.1M376.2,607.5V595.8M377.2,610.4V604.5M378.2,605.2V594.2M379.2,611.8V599.9M380.2,606.0V595.9M381.2,610.0V599.3M382.5,616.7V610.3M383.8,617.5V605.6M385.0,619.6V611.2M386.2,622.5V610.8M387.5,619.5V608.1M388.8,619.6V613.4M390.0,617.5V607.0M391.0,621.4V609.9M392.0,616.6V611.2M393.0,616.0V608.6M394.0,619.7V609.4M395.0,620.0V613.9M396.2,617.5V606.2M397.5,616.0V609.1M398.8,618.8V608.0M400.0,618.5V612.5M401.2,623.8V615.2M402.5,623.3V611.8M403.8,630.0V623.5M405.0,625.1V618.3M406.2,625.0V616.5M407.3,621.8V614.6M408.4,620.1V614.8M409.5,620.0V613.7M411.2,610.0V603.9M412.5,609.0V597.4M413.8,603.8V594.0M415.0,605.2V593.9M416.2,610.0V603.8M417.5,613.8V603.3M418.8,617.5V611.7M420.0,615.8V607.0M421.2,617.9V608.5M422.5,620.0V612.5M423.5,616.1V605.0M424.5,618.0V609.1M425.5,620.0V610.9M426.6,617.4V606.2M427.7,624.4V618.6M428.8,623.8V611.8" stroke="#999" stroke-width="1.1" fill="none"/>
<path d="M51.5,515.3h6M53.0,528.0h6M54.1,525.8h6M55.2,516.7h6M56.2,528.9h6M57.2,526.0h6M58.3,531.9h6M59.4,541.1h6M60.4,540.4h6M61.5,546.7h6M62.5,544.7h6M63.5,535.9h6M64.5,527.5h6M65.6,525.7h6M66.6,526.9h6M67.7,524.9h6M68.7,526.3h6M69.8,524.6h6M70.8,522.4h6M71.8,520.2h6M72.8,513.7h6M73.9,508.8h6M74.9,513.6h6M76.0,511.7h6M77.0,509.8h6M78.0,514.7h6M79.1,512.3h6M80.2,501.1h6M81.2,503.3h6M82.2,504.4h6M83.3,498.2h6M84.3,506.3h6M85.4,509.9h6M86.4,508.5h6M87.5,513.4h6M88.5,515.9h6M89.5,513.3h6M90.6,514.5h6M91.7,504.1h6M92.7,508.9h6M93.7,504.5h6M94.8,505.3h6M95.8,507.1h6M96.8,504.4h6M97.9,498.9h6M98.9,501.6h6M100.0,504.5h6M101.0,506.9h6M102.1,506.9h6M103.1,499.7h6M104.2,505.4h6M105.2,508.3h6M106.2,503.8h6M107.2,514.8h6M108.3,517.4h6M109.3,513.3h6M110.3,512.0h6M111.4,510.5h6M112.5,513.8h6M113.5,522.6h6M114.5,524.5h6M115.6,532.0h6M116.7,527.0h6M117.7,516.7h6M118.7,524.3h6M119.8,524.7h6M120.8,524.0h6M121.8,528.4h6M122.8,524.8h6M123.9,521.5h6M125.0,515.6h6M126.0,515.1h6M127.0,517.1h6M128.0,504.5h6M129.1,511.2h6M130.2,518.6h6M131.2,515.6h6M132.2,524.3h6M133.3,517.8h6M134.3,515.7h6M135.4,525.8h6M136.4,533.3h6M137.4,533.2h6M138.5,524.7h6M139.5,519.8h6M140.6,518.2h6M141.6,514.1h6M142.7,517.5h6M143.7,514.5h6M144.8,512.8h6M145.8,518.3h6M146.8,527.9h6M147.9,537.7h6M149.1,527.3h6M150.1,515.0h6M151.2,508.3h6M152.2,510.2h6M153.2,512.2h6M154.3,513.7h6M155.3,511.7h6M156.4,520.1h6M157.4,524.9h6M158.4,523.2h6M159.5,511.1h6M160.6,505.8h6M161.6,495.6h6M162.6,497.1h6M163.7,490.4h6M164.7,500.2h6M165.8,506.1h6M166.8,508.3h6M167.8,507.3h6M168.9,506.6h6M169.9,504.9h6M170.9,510.3h6M172.0,510.1h6M173.1,509.1h6M174.1,514.3h6M175.1,508.3h6M176.2,512.4h6M177.2,507.1h6M178.2,511.8h6M179.3,507.2h6M180.3,507.7h6M181.4,508.6h6M182.4,510.4h6M183.4,511.7h6M184.5,517.6h6M185.6,519.7h6M186.6,521.3h6M187.6,521.7h6M188.7,508.7h6M189.7,511.9h6M190.8,510.7h6M191.8,510.2h6M192.8,510.1h6M193.9,512.7h6M194.9,519.6h6M195.9,514.4h6M197.0,516.4h6M198.0,514.9h6M199.1,523.0h6M200.1,522.0h6M201.2,516.1h6M202.2,517.7h6M203.2,516.6h6M204.3,529.3h6M205.3,546.2h6M206.4,546.1h6M207.4,544.2h6M208.5,537.2h6M209.5,531.7h6M210.6,529.8h6M211.6,531.1h6M212.6,526.3h6M213.7,528.6h6M214.7,527.0h6M215.8,520.0h6M216.8,515.8h6M217.8,522.6h6M218.9,512.8h6M219.9,508.1h6M221.0,503.1h6M222.0,504.0h6M223.0,501.5h6M224.1,506.7h6M225.1,502.9h6M226.1,505.0h6M227.2,506.2h6M228.2,515.0h6M229.3,514.9h6M230.3,520.7h6M231.4,526.3h6M232.4,532.5h6M233.4,525.5h6M234.5,526.1h6M235.6,517.8h6M236.6,521.0h6M237.6,520.3h6M238.7,522.3h6M239.7,522.4h6M240.8,524.3h6M241.8,531.3h6M242.5,529.0h6M243.2,583.7h6M244.5,525.1h6M245.8,524.7h6M247.0,520.5h6M248.2,531.4h6M249.5,533.3h6M250.8,546.0h6M252.0,546.0h6M253.2,548.5h6M254.5,554.6h6M255.8,556.3h6M257.0,556.8h6M258.2,566.9h6M259.5,571.1h6M260.8,565.8h6M262.0,573.6h6M263.0,577.5h6M264.0,571.4h6M265.0,568.3h6M266.0,570.9h6M267.0,569.7h6M268.2,569.3h6M269.5,576.8h6M270.8,577.5h6M272.0,577.4h6M273.2,578.8h6M274.5,575.5h6M275.8,577.5h6M277.0,581.9h6M278.2,574.2h6M279.5,577.4h6M280.8,579.7h6M282.0,586.5h6M283.2,593.0h6M284.5,594.0h6M285.8,593.5h6M287.0,600.5h6M288.2,601.6h6M289.5,597.8h6M290.8,598.4h6M292.0,606.1h6M293.2,610.9h6M294.5,605.9h6M295.8,602.7h6M297.0,611.2h6M298.2,614.6h6M299.5,609.7h6M300.8,611.8h6M302.0,613.7h6M303.2,616.8h6M304.5,619.2h6M305.8,624.2h6M307.0,618.2h6M308.2,619.2h6M309.5,614.7h6M310.8,604.3h6M312.0,604.2h6M313.2,611.3h6M314.5,606.0h6M315.8,609.5h6M317.0,608.9h6M318.2,616.1h6M319.5,616.6h6M320.8,610.1h6M322.0,607.4h6M323.2,606.2h6M324.5,616.0h6M325.8,608.0h6M327.0,609.7h6M328.2,622.0h6M329.5,619.1h6M330.8,618.0h6M332.0,612.1h6M333.2,605.1h6M334.5,603.1h6M335.8,606.0h6M337.0,607.1h6M337.8,620.9h6M338.2,544.5h6M339.5,595.4h6M340.8,594.4h6M342.0,584.4h6M343.2,579.8h6M344.5,580.2h6M345.8,579.1h6M347.0,583.4h6M348.2,577.2h6M349.5,574.3h6M350.8,574.8h6M352.0,578.7h6M353.2,582.5h6M354.5,584.3h6M355.8,585.9h6M357.0,584.5h6M358.2,591.0h6M359.5,589.4h6M360.8,587.3h6M362.0,592.0h6M363.2,593.0h6M364.5,596.8h6M365.8,588.4h6M367.0,587.1h6M368.2,589.2h6M369.5,599.6h6M370.8,600.8h6M372.0,600.1h6M373.2,595.8h6M374.2,604.5h6M375.2,594.2h6M376.2,599.9h6M377.2,595.9h6M378.2,599.3h6M379.5,610.3h6M380.8,605.6h6M382.0,611.2h6M383.2,610.8h6M384.5,608.1h6M385.8,613.4h6M387.0,607.0h6M388.0,609.9h6M389.0,611.2h6M390.0,608.6h6M391.0,609.4h6M392.0,613.9h6M393.2,606.2h6M394.5,609.1h6M395.8,608.0h6M397.0,612.5h6M398.2,615.2h6M399.5,611.8h6M400.8,623.5h6M402.0,618.3h6M403.2,616.5h6M404.3,614.6h6M405.4,614.8h6M406.5,613.7h6M408.2,603.9h6M409.5,597.4h6M410.8,594.0h6M412.0,593.9h6M413.2,603.8h6M414.5,603.3h6M415.8,611.7h6M417.0,607.0h6M418.2,608.5h6M419.5,612.5h6M420.5,605.0h6M421.5,609.1h6M422.5,610.9h6M423.6,606.2h6M424.7,618.6h6M425.8,611.8h6" stroke="#555" stroke-width="0.8" fill="none"/>
<path d="M151.9,506V490.5M150.20000000000002,490.5h3.4M190.6,471V454.3M188.9,454.3h3.4M205.7,506V493.6M204.0,493.6h3.4M214.5,515V510M212.8,510h3.4M246,492V471.8M244.3,471.8h3.4M341.8,434.6V415M340.1,415h3.4M69.6,490V476M67.89999999999999,476h3.4M268,500V486M266.3,486h3.4" stroke="#808080" stroke-width="0.9" fill="none"/>
<polyline points="56.1,511.7 57.0,530.0 58.0,545.0 62.0,560.0 62.7,582.5 65.5,545.0 66.5,505.0 67.5,489.0 71.7,493.0 74.8,478.0 76.9,466.0 80.0,463.0 83.2,468.0 86.3,475.0 89.4,463.0 92.5,463.0 95.7,470.0 96.7,489.0 98.8,497.0 101.5,503.0 104.0,528.0 106.0,537.0 110.2,551.0 114.4,562.0 118.6,574.0 120.7,580.0 124.8,570.0 129.0,574.0 132.0,562.0 135.2,557.5 139.4,576.0 141.5,562.0 145.7,563.8 149.8,584.6 152.0,566.0 154.2,555.0 157.3,545.0 159.4,528.0 161.5,495.0 163.5,472.0 165.6,455.0 168.8,451.0 172.9,447.0 176.0,449.0 178.1,464.0 181.2,472.0 184.4,478.0 187.5,486.7 189.6,472.0 191.7,484.6 194.8,490.8 196.9,503.0 200.0,509.6 204.2,513.8 206.2,520.0 210.4,522.0 214.6,524.0 216.7,557.5 218.8,518.0 222.9,518.0 226.0,536.7 229.2,538.8 231.2,555.4 233.3,549.0 235.4,536.7 237.5,511.7 239.6,507.5 242.7,499.0 245.8,495.0 246.9,563.8 247.9,513.8 248.8,535.0 252.5,537.5 255.0,522.5 257.5,520.0 258.8,532.5 261.2,512.5 263.8,515.0 267.5,496.0 270.0,505.0 272.5,515.0 273.8,510.0 276.2,520.0 277.5,532.5 280.0,540.0 282.5,542.5 285.0,525.0 287.5,527.5 290.0,537.5 292.5,545.0 295.0,542.5 297.5,552.5 300.0,540.0 302.5,532.5 305.0,525.0 307.5,532.5 310.0,537.5 312.5,532.5 315.0,518.8 317.5,535.0 320.0,552.5 321.2,567.5 323.8,552.5 327.5,545.0 332.5,545.0 333.8,527.5 336.2,520.0 338.8,515.0 340.0,542.5 341.8,433.8 342.5,545.0 345.0,560.0 346.2,575.0 347.5,552.5 348.8,522.5 350.0,506.0 351.2,490.0 352.5,486.0 355.0,492.5 360.0,492.5 363.8,496.0 366.2,502.5 368.8,510.0 370.0,520.0 371.2,532.5 373.8,537.5 376.2,530.0 380.0,532.5 382.5,540.0 383.8,550.0 386.2,557.5 388.8,558.8 391.2,545.0 395.0,542.5 398.8,532.5 401.2,542.5 405.0,555.0 407.5,537.5 409.5,522.5 411.2,540.0 413.8,547.5 415.5,563.8 417.5,557.5 420.0,537.5 422.5,545.0 425.0,527.5 427.5,530.0 428.8,538.8" stroke="#000" stroke-width="1.5" fill="none"/>
<path d="M53.4,509.0h5.4v5.4h-5.4zM54.3,527.3h5.4v5.4h-5.4zM55.3,542.3h5.4v5.4h-5.4zM56.3,544.6h5.4v5.4h-5.4zM57.3,547.0h5.4v5.4h-5.4zM58.3,554.8h5.4v5.4h-5.4zM59.3,557.3h5.4v5.4h-5.4zM60.0,579.8h5.4v5.4h-5.4zM61.4,557.6h5.4v5.4h-5.4zM62.8,542.3h5.4v5.4h-5.4zM63.8,502.3h5.4v5.4h-5.4zM64.8,486.3h5.4v5.4h-5.4zM65.8,487.6h5.4v5.4h-5.4zM66.9,487.2h5.4v5.4h-5.4zM68.0,485.8h5.4v5.4h-5.4zM69.0,490.3h5.4v5.4h-5.4zM70.0,485.4h5.4v5.4h-5.4zM71.1,476.6h5.4v5.4h-5.4zM72.1,475.3h5.4v5.4h-5.4zM73.1,468.8h5.4v5.4h-5.4zM74.2,463.3h5.4v5.4h-5.4zM75.2,458.9h5.4v5.4h-5.4zM76.3,458.0h5.4v5.4h-5.4zM77.3,460.3h5.4v5.4h-5.4zM78.4,461.4h5.4v5.4h-5.4zM79.4,466.2h5.4v5.4h-5.4zM80.5,465.3h5.4v5.4h-5.4zM81.5,464.6h5.4v5.4h-5.4zM82.6,467.8h5.4v5.4h-5.4zM83.6,472.3h5.4v5.4h-5.4zM84.6,469.3h5.4v5.4h-5.4zM85.7,467.9h5.4v5.4h-5.4zM86.7,460.3h5.4v5.4h-5.4zM87.7,460.9h5.4v5.4h-5.4zM88.8,459.5h5.4v5.4h-5.4zM89.8,460.3h5.4v5.4h-5.4zM90.9,466.4h5.4v5.4h-5.4zM91.9,461.3h5.4v5.4h-5.4zM93.0,467.3h5.4v5.4h-5.4zM94.0,486.3h5.4v5.4h-5.4zM95.0,493.2h5.4v5.4h-5.4zM96.1,494.3h5.4v5.4h-5.4zM97.5,495.6h5.4v5.4h-5.4zM98.8,500.3h5.4v5.4h-5.4zM100.0,510.0h5.4v5.4h-5.4zM101.3,525.3h5.4v5.4h-5.4zM102.3,526.7h5.4v5.4h-5.4zM103.3,534.3h5.4v5.4h-5.4zM104.4,536.3h5.4v5.4h-5.4zM105.4,543.8h5.4v5.4h-5.4zM106.5,542.2h5.4v5.4h-5.4zM107.5,548.3h5.4v5.4h-5.4zM108.6,551.7h5.4v5.4h-5.4zM109.6,554.9h5.4v5.4h-5.4zM110.7,555.5h5.4v5.4h-5.4zM111.7,559.3h5.4v5.4h-5.4zM112.8,562.7h5.4v5.4h-5.4zM113.8,561.8h5.4v5.4h-5.4zM114.8,564.8h5.4v5.4h-5.4zM115.9,571.3h5.4v5.4h-5.4zM117.0,571.9h5.4v5.4h-5.4zM118.0,577.3h5.4v5.4h-5.4zM119.0,576.2h5.4v5.4h-5.4zM120.0,571.7h5.4v5.4h-5.4zM121.1,568.3h5.4v5.4h-5.4zM122.1,567.3h5.4v5.4h-5.4zM123.1,569.0h5.4v5.4h-5.4zM124.2,568.9h5.4v5.4h-5.4zM125.2,568.7h5.4v5.4h-5.4zM126.3,571.3h5.4v5.4h-5.4zM127.3,569.7h5.4v5.4h-5.4zM128.3,564.9h5.4v5.4h-5.4zM129.3,559.3h5.4v5.4h-5.4zM130.4,555.8h5.4v5.4h-5.4zM131.5,556.9h5.4v5.4h-5.4zM132.6,554.8h5.4v5.4h-5.4zM133.6,559.6h5.4v5.4h-5.4zM134.6,567.1h5.4v5.4h-5.4zM135.7,570.5h5.4v5.4h-5.4zM136.7,573.3h5.4v5.4h-5.4zM137.8,564.6h5.4v5.4h-5.4zM138.8,559.3h5.4v5.4h-5.4zM139.9,563.6h5.4v5.4h-5.4zM140.9,557.1h5.4v5.4h-5.4zM141.9,560.0h5.4v5.4h-5.4zM143.0,561.0h5.4v5.4h-5.4zM144.0,568.3h5.4v5.4h-5.4zM145.1,568.7h5.4v5.4h-5.4zM146.1,576.6h5.4v5.4h-5.4zM147.1,581.9h5.4v5.4h-5.4zM148.2,568.9h5.4v5.4h-5.4zM149.3,563.3h5.4v5.4h-5.4zM150.4,559.1h5.4v5.4h-5.4zM151.5,552.3h5.4v5.4h-5.4zM152.5,551.1h5.4v5.4h-5.4zM153.6,546.2h5.4v5.4h-5.4zM154.6,542.3h5.4v5.4h-5.4zM155.7,536.8h5.4v5.4h-5.4zM156.7,525.3h5.4v5.4h-5.4zM157.8,507.3h5.4v5.4h-5.4zM158.8,492.3h5.4v5.4h-5.4zM159.8,482.4h5.4v5.4h-5.4zM160.8,469.3h5.4v5.4h-5.4zM161.9,461.6h5.4v5.4h-5.4zM162.9,452.3h5.4v5.4h-5.4zM164.0,451.6h5.4v5.4h-5.4zM165.0,449.3h5.4v5.4h-5.4zM166.1,448.3h5.4v5.4h-5.4zM167.1,450.0h5.4v5.4h-5.4zM168.1,449.9h5.4v5.4h-5.4zM169.2,445.1h5.4v5.4h-5.4zM170.2,444.3h5.4v5.4h-5.4zM171.2,446.3h5.4v5.4h-5.4zM172.3,442.1h5.4v5.4h-5.4zM173.3,446.3h5.4v5.4h-5.4zM174.4,455.4h5.4v5.4h-5.4zM175.4,461.3h5.4v5.4h-5.4zM176.5,465.1h5.4v5.4h-5.4zM177.5,470.6h5.4v5.4h-5.4zM178.6,469.3h5.4v5.4h-5.4zM179.6,473.9h5.4v5.4h-5.4zM180.7,471.6h5.4v5.4h-5.4zM181.7,475.3h5.4v5.4h-5.4zM182.7,477.3h5.4v5.4h-5.4zM183.8,482.4h5.4v5.4h-5.4zM184.8,484.0h5.4v5.4h-5.4zM185.9,472.8h5.4v5.4h-5.4zM186.9,469.3h5.4v5.4h-5.4zM187.9,475.3h5.4v5.4h-5.4zM189.0,481.9h5.4v5.4h-5.4zM190.0,481.3h5.4v5.4h-5.4zM191.1,483.0h5.4v5.4h-5.4zM192.1,488.1h5.4v5.4h-5.4zM193.2,490.7h5.4v5.4h-5.4zM194.2,500.3h5.4v5.4h-5.4zM195.2,504.6h5.4v5.4h-5.4zM196.3,501.7h5.4v5.4h-5.4zM197.3,506.9h5.4v5.4h-5.4zM198.4,505.9h5.4v5.4h-5.4zM199.4,508.1h5.4v5.4h-5.4zM200.4,513.0h5.4v5.4h-5.4zM201.5,511.1h5.4v5.4h-5.4zM202.5,510.8h5.4v5.4h-5.4zM203.6,517.3h5.4v5.4h-5.4zM204.6,517.4h5.4v5.4h-5.4zM205.6,518.7h5.4v5.4h-5.4zM206.7,521.9h5.4v5.4h-5.4zM207.7,519.3h5.4v5.4h-5.4zM208.8,522.4h5.4v5.4h-5.4zM209.8,523.2h5.4v5.4h-5.4zM210.9,519.0h5.4v5.4h-5.4zM211.9,521.3h5.4v5.4h-5.4zM212.9,537.4h5.4v5.4h-5.4zM214.0,554.8h5.4v5.4h-5.4zM215.0,533.9h5.4v5.4h-5.4zM216.1,515.3h5.4v5.4h-5.4zM217.1,518.4h5.4v5.4h-5.4zM218.1,519.0h5.4v5.4h-5.4zM219.2,512.5h5.4v5.4h-5.4zM220.2,515.3h5.4v5.4h-5.4zM221.2,518.9h5.4v5.4h-5.4zM222.3,525.6h5.4v5.4h-5.4zM223.3,534.0h5.4v5.4h-5.4zM224.4,532.6h5.4v5.4h-5.4zM225.4,535.2h5.4v5.4h-5.4zM226.5,536.0h5.4v5.4h-5.4zM227.5,545.1h5.4v5.4h-5.4zM228.6,552.7h5.4v5.4h-5.4zM229.6,547.6h5.4v5.4h-5.4zM230.6,546.3h5.4v5.4h-5.4zM231.7,536.2h5.4v5.4h-5.4zM232.7,534.0h5.4v5.4h-5.4zM233.8,520.9h5.4v5.4h-5.4zM234.8,509.0h5.4v5.4h-5.4zM235.9,505.9h5.4v5.4h-5.4zM236.9,504.8h5.4v5.4h-5.4zM237.9,502.5h5.4v5.4h-5.4zM239.0,502.8h5.4v5.4h-5.4zM240.0,496.3h5.4v5.4h-5.4zM241.0,496.5h5.4v5.4h-5.4zM242.1,493.8h5.4v5.4h-5.4zM243.1,492.3h5.4v5.4h-5.4zM244.2,561.0h5.4v5.4h-5.4zM245.2,511.1h5.4v5.4h-5.4zM246.1,532.3h5.4v5.4h-5.4zM247.3,534.1h5.4v5.4h-5.4zM248.6,535.4h5.4v5.4h-5.4zM249.8,534.8h5.4v5.4h-5.4zM251.1,523.7h5.4v5.4h-5.4zM252.3,519.8h5.4v5.4h-5.4zM253.6,521.7h5.4v5.4h-5.4zM254.8,517.3h5.4v5.4h-5.4zM256.1,529.8h5.4v5.4h-5.4zM257.3,522.0h5.4v5.4h-5.4zM258.6,509.8h5.4v5.4h-5.4zM259.8,514.0h5.4v5.4h-5.4zM261.1,512.3h5.4v5.4h-5.4zM262.3,508.3h5.4v5.4h-5.4zM263.6,498.8h5.4v5.4h-5.4zM264.8,493.3h5.4v5.4h-5.4zM266.1,497.0h5.4v5.4h-5.4zM267.3,502.3h5.4v5.4h-5.4zM268.6,504.1h5.4v5.4h-5.4zM269.8,512.3h5.4v5.4h-5.4zM271.1,507.3h5.4v5.4h-5.4zM272.3,513.4h5.4v5.4h-5.4zM273.6,517.3h5.4v5.4h-5.4zM274.8,529.8h5.4v5.4h-5.4zM276.1,530.0h5.4v5.4h-5.4zM277.3,537.3h5.4v5.4h-5.4zM278.6,535.1h5.4v5.4h-5.4zM279.8,539.8h5.4v5.4h-5.4zM281.1,528.7h5.4v5.4h-5.4zM282.3,522.3h5.4v5.4h-5.4zM283.6,520.8h5.4v5.4h-5.4zM284.8,524.8h5.4v5.4h-5.4zM286.1,528.5h5.4v5.4h-5.4zM287.3,534.8h5.4v5.4h-5.4zM288.6,535.0h5.4v5.4h-5.4zM289.8,542.3h5.4v5.4h-5.4zM291.1,537.1h5.4v5.4h-5.4zM292.3,539.8h5.4v5.4h-5.4zM293.6,542.0h5.4v5.4h-5.4zM294.8,549.8h5.4v5.4h-5.4zM296.1,540.4h5.4v5.4h-5.4zM297.3,537.3h5.4v5.4h-5.4zM298.6,532.5h5.4v5.4h-5.4zM299.8,529.8h5.4v5.4h-5.4zM301.1,522.3h5.4v5.4h-5.4zM302.3,522.3h5.4v5.4h-5.4zM303.6,529.0h5.4v5.4h-5.4zM304.8,529.8h5.4v5.4h-5.4zM306.1,533.2h5.4v5.4h-5.4zM307.3,534.8h5.4v5.4h-5.4zM308.6,529.5h5.4v5.4h-5.4zM309.8,529.8h5.4v5.4h-5.4zM311.1,520.9h5.4v5.4h-5.4zM312.3,516.0h5.4v5.4h-5.4zM313.6,523.0h5.4v5.4h-5.4zM314.8,532.3h5.4v5.4h-5.4zM316.1,540.0h5.4v5.4h-5.4zM317.3,549.8h5.4v5.4h-5.4zM318.6,564.8h5.4v5.4h-5.4zM319.8,554.3h5.4v5.4h-5.4zM321.1,549.8h5.4v5.4h-5.4zM322.3,550.1h5.4v5.4h-5.4zM323.6,548.7h5.4v5.4h-5.4zM324.8,542.3h5.4v5.4h-5.4zM325.8,542.0h5.4v5.4h-5.4zM326.8,542.2h5.4v5.4h-5.4zM327.8,539.0h5.4v5.4h-5.4zM328.8,539.1h5.4v5.4h-5.4zM329.8,542.3h5.4v5.4h-5.4zM331.1,524.8h5.4v5.4h-5.4zM332.3,519.8h5.4v5.4h-5.4zM333.6,517.3h5.4v5.4h-5.4zM334.8,512.9h5.4v5.4h-5.4zM336.1,512.3h5.4v5.4h-5.4zM337.3,539.8h5.4v5.4h-5.4zM339.1,431.1h5.4v5.4h-5.4zM339.8,542.3h5.4v5.4h-5.4zM341.1,552.4h5.4v5.4h-5.4zM342.3,557.3h5.4v5.4h-5.4zM343.6,572.3h5.4v5.4h-5.4zM344.8,549.8h5.4v5.4h-5.4zM346.1,519.8h5.4v5.4h-5.4zM347.3,503.3h5.4v5.4h-5.4zM348.6,487.3h5.4v5.4h-5.4zM349.8,483.3h5.4v5.4h-5.4zM351.1,483.8h5.4v5.4h-5.4zM352.3,489.8h5.4v5.4h-5.4zM353.3,486.0h5.4v5.4h-5.4zM354.3,493.4h5.4v5.4h-5.4zM355.3,490.0h5.4v5.4h-5.4zM356.3,487.0h5.4v5.4h-5.4zM357.3,489.8h5.4v5.4h-5.4zM358.6,491.3h5.4v5.4h-5.4zM359.8,488.3h5.4v5.4h-5.4zM361.1,493.3h5.4v5.4h-5.4zM362.3,496.8h5.4v5.4h-5.4zM363.6,499.8h5.4v5.4h-5.4zM364.8,507.4h5.4v5.4h-5.4zM366.1,507.3h5.4v5.4h-5.4zM367.3,517.3h5.4v5.4h-5.4zM368.6,529.8h5.4v5.4h-5.4zM369.8,535.2h5.4v5.4h-5.4zM371.1,534.8h5.4v5.4h-5.4zM372.3,532.6h5.4v5.4h-5.4zM373.6,527.3h5.4v5.4h-5.4zM374.8,526.2h5.4v5.4h-5.4zM376.1,527.9h5.4v5.4h-5.4zM377.3,529.8h5.4v5.4h-5.4zM378.6,530.9h5.4v5.4h-5.4zM379.8,537.3h5.4v5.4h-5.4zM381.1,547.3h5.4v5.4h-5.4zM382.3,553.2h5.4v5.4h-5.4zM383.6,554.8h5.4v5.4h-5.4zM384.8,555.7h5.4v5.4h-5.4zM386.1,556.0h5.4v5.4h-5.4zM387.3,551.4h5.4v5.4h-5.4zM388.6,542.3h5.4v5.4h-5.4zM389.8,540.1h5.4v5.4h-5.4zM391.1,538.4h5.4v5.4h-5.4zM392.3,539.8h5.4v5.4h-5.4zM393.6,539.0h5.4v5.4h-5.4zM394.8,537.0h5.4v5.4h-5.4zM396.1,529.8h5.4v5.4h-5.4zM397.3,537.6h5.4v5.4h-5.4zM398.6,539.8h5.4v5.4h-5.4zM399.8,546.4h5.4v5.4h-5.4zM401.1,550.7h5.4v5.4h-5.4zM402.3,552.3h5.4v5.4h-5.4zM403.6,545.5h5.4v5.4h-5.4zM404.8,534.8h5.4v5.4h-5.4zM405.8,525.1h5.4v5.4h-5.4zM406.8,519.8h5.4v5.4h-5.4zM408.6,537.3h5.4v5.4h-5.4zM409.8,541.2h5.4v5.4h-5.4zM411.1,544.8h5.4v5.4h-5.4zM412.8,561.0h5.4v5.4h-5.4zM413.8,556.8h5.4v5.4h-5.4zM414.8,554.8h5.4v5.4h-5.4zM416.1,541.0h5.4v5.4h-5.4zM417.3,534.8h5.4v5.4h-5.4zM418.6,534.8h5.4v5.4h-5.4zM419.8,542.3h5.4v5.4h-5.4zM421.1,531.8h5.4v5.4h-5.4zM422.3,524.8h5.4v5.4h-5.4zM423.6,524.1h5.4v5.4h-5.4zM424.8,527.3h5.4v5.4h-5.4zM426.1,536.0h5.4v5.4h-5.4z" fill="#000" stroke="#000" stroke-width="0.6"/>
<polyline points="54.5,526.0 56.0,534.6 58.2,527.0 60.2,537.7 63.4,547.0 65.5,554.4 67.5,533.5 70.7,536.7 74.8,528.0 76.9,520.0 81.0,522.0 83.2,512.7 85.2,509.6 89.4,515.8 93.6,522.0 95.7,514.8 101.9,509.6 108.2,515.8 110.2,520.0 112.3,524.0 114.4,515.8 116.5,528.0 118.6,538.8 120.7,528.0 124.8,537.7 126.9,531.5 129.0,522.0 131.0,514.8 133.2,528.0 137.3,524.0 139.4,545.0 141.5,531.5 147.8,523.0 150.9,547.0 152.1,534.6 154.2,515.8 158.3,522.0 160.4,530.4 162.5,520.0 164.6,507.5 166.7,502.3 168.8,511.7 170.8,515.8 175.0,518.0 177.1,524.0 183.3,514.8 187.5,524.0 189.6,528.0 193.8,518.0 195.8,522.0 200.0,526.0 206.2,528.0 207.3,534.6 208.3,553.3 211.5,549.0 212.5,540.8 214.6,538.8 216.7,536.7 218.8,530.4 221.9,522.0 224.0,509.6 226.0,507.5 230.2,515.8 232.3,520.0 233.3,528.0 235.4,538.8 237.5,532.5 241.7,528.0 244.8,540.8 245.5,534.6 246.2,589.8 247.5,535.0 250.0,527.5 252.5,545.0 255.0,555.0 257.5,562.5 260.0,568.8 262.5,577.5 265.0,580.0 270.0,577.5 272.5,585.0 275.0,582.5 277.5,585.0 280.0,587.5 282.5,585.0 285.0,592.5 286.2,600.0 288.8,605.0 291.2,610.0 295.0,612.5 297.5,617.5 301.2,620.0 305.0,625.0 307.5,630.0 310.0,628.8 312.5,622.5 315.0,615.0 317.5,612.5 320.0,617.5 322.5,622.5 325.0,617.5 327.5,621.2 330.0,620.0 332.5,630.0 335.0,621.2 337.5,612.5 340.0,615.0 340.8,630.0 341.2,552.5 342.5,605.0 343.8,602.5 345.0,592.5 346.2,585.0 348.8,587.5 351.2,587.5 355.0,585.0 357.5,590.0 360.0,592.5 362.5,597.5 366.2,602.5 370.0,597.5 372.5,605.0 376.2,607.5 381.2,610.0 383.8,617.5 386.2,622.5 390.0,617.5 395.0,620.0 398.8,618.8 401.2,623.8 403.8,630.0 406.2,625.0 409.5,620.0 411.2,610.0 413.8,603.8 416.2,610.0 418.8,617.5 422.5,620.0 425.5,620.0 428.8,623.8" stroke="#000" stroke-width="1.5" fill="none"/>
<path d="M51.8,523.3h5.4v5.4h-5.4zM53.3,531.9h5.4v5.4h-5.4zM54.4,529.6h5.4v5.4h-5.4zM55.5,524.3h5.4v5.4h-5.4zM56.5,533.3h5.4v5.4h-5.4zM57.5,535.0h5.4v5.4h-5.4zM58.6,537.7h5.4v5.4h-5.4zM59.6,544.7h5.4v5.4h-5.4zM60.7,544.3h5.4v5.4h-5.4zM61.8,551.9h5.4v5.4h-5.4zM62.8,551.7h5.4v5.4h-5.4zM63.8,544.9h5.4v5.4h-5.4zM64.8,530.8h5.4v5.4h-5.4zM65.9,530.8h5.4v5.4h-5.4zM66.9,530.7h5.4v5.4h-5.4zM68.0,534.0h5.4v5.4h-5.4zM69.0,529.6h5.4v5.4h-5.4zM70.0,527.2h5.4v5.4h-5.4zM71.1,525.1h5.4v5.4h-5.4zM72.1,525.3h5.4v5.4h-5.4zM73.1,522.3h5.4v5.4h-5.4zM74.2,517.3h5.4v5.4h-5.4zM75.2,521.0h5.4v5.4h-5.4zM76.2,521.0h5.4v5.4h-5.4zM77.3,518.6h5.4v5.4h-5.4zM78.3,519.3h5.4v5.4h-5.4zM79.4,515.9h5.4v5.4h-5.4zM80.5,510.0h5.4v5.4h-5.4zM81.5,510.8h5.4v5.4h-5.4zM82.5,506.9h5.4v5.4h-5.4zM83.6,505.1h5.4v5.4h-5.4zM84.6,511.3h5.4v5.4h-5.4zM85.7,514.8h5.4v5.4h-5.4zM86.7,513.1h5.4v5.4h-5.4zM87.8,516.9h5.4v5.4h-5.4zM88.8,518.2h5.4v5.4h-5.4zM89.8,517.6h5.4v5.4h-5.4zM90.9,519.3h5.4v5.4h-5.4zM92.0,513.1h5.4v5.4h-5.4zM93.0,512.1h5.4v5.4h-5.4zM94.0,513.5h5.4v5.4h-5.4zM95.1,509.0h5.4v5.4h-5.4zM96.1,511.9h5.4v5.4h-5.4zM97.1,512.4h5.4v5.4h-5.4zM98.2,506.9h5.4v5.4h-5.4zM99.2,506.9h5.4v5.4h-5.4zM100.2,507.1h5.4v5.4h-5.4zM101.3,512.5h5.4v5.4h-5.4zM102.4,511.8h5.4v5.4h-5.4zM103.4,508.4h5.4v5.4h-5.4zM104.5,509.1h5.4v5.4h-5.4zM105.5,513.1h5.4v5.4h-5.4zM106.5,512.4h5.4v5.4h-5.4zM107.5,517.3h5.4v5.4h-5.4zM108.6,522.5h5.4v5.4h-5.4zM109.6,521.3h5.4v5.4h-5.4zM110.6,519.7h5.4v5.4h-5.4zM111.7,513.1h5.4v5.4h-5.4zM112.8,516.4h5.4v5.4h-5.4zM113.8,525.3h5.4v5.4h-5.4zM114.8,533.3h5.4v5.4h-5.4zM115.9,536.0h5.4v5.4h-5.4zM117.0,534.5h5.4v5.4h-5.4zM118.0,525.3h5.4v5.4h-5.4zM119.0,529.0h5.4v5.4h-5.4zM120.0,529.0h5.4v5.4h-5.4zM121.1,533.0h5.4v5.4h-5.4zM122.1,535.0h5.4v5.4h-5.4zM123.1,528.9h5.4v5.4h-5.4zM124.2,528.8h5.4v5.4h-5.4zM125.2,520.2h5.4v5.4h-5.4zM126.3,519.3h5.4v5.4h-5.4zM127.3,519.5h5.4v5.4h-5.4zM128.3,512.1h5.4v5.4h-5.4zM129.4,519.9h5.4v5.4h-5.4zM130.5,525.3h5.4v5.4h-5.4zM131.5,524.5h5.4v5.4h-5.4zM132.6,526.8h5.4v5.4h-5.4zM133.6,521.8h5.4v5.4h-5.4zM134.6,521.3h5.4v5.4h-5.4zM135.7,534.8h5.4v5.4h-5.4zM136.7,542.3h5.4v5.4h-5.4zM137.8,538.2h5.4v5.4h-5.4zM138.8,528.8h5.4v5.4h-5.4zM139.8,525.1h5.4v5.4h-5.4zM140.9,524.0h5.4v5.4h-5.4zM141.9,522.9h5.4v5.4h-5.4zM143.0,521.1h5.4v5.4h-5.4zM144.0,522.4h5.4v5.4h-5.4zM145.1,520.3h5.4v5.4h-5.4zM146.1,526.4h5.4v5.4h-5.4zM147.2,535.7h5.4v5.4h-5.4zM148.2,544.3h5.4v5.4h-5.4zM149.4,531.9h5.4v5.4h-5.4zM150.4,519.5h5.4v5.4h-5.4zM151.5,513.1h5.4v5.4h-5.4zM152.5,517.9h5.4v5.4h-5.4zM153.6,515.0h5.4v5.4h-5.4zM154.6,517.4h5.4v5.4h-5.4zM155.6,519.3h5.4v5.4h-5.4zM156.7,524.2h5.4v5.4h-5.4zM157.7,527.7h5.4v5.4h-5.4zM158.8,525.7h5.4v5.4h-5.4zM159.8,517.3h5.4v5.4h-5.4zM160.9,510.4h5.4v5.4h-5.4zM161.9,504.8h5.4v5.4h-5.4zM162.9,505.5h5.4v5.4h-5.4zM164.0,499.6h5.4v5.4h-5.4zM165.0,504.3h5.4v5.4h-5.4zM166.1,509.0h5.4v5.4h-5.4zM167.1,511.3h5.4v5.4h-5.4zM168.1,513.1h5.4v5.4h-5.4zM169.2,513.8h5.4v5.4h-5.4zM170.2,510.3h5.4v5.4h-5.4zM171.2,514.3h5.4v5.4h-5.4zM172.3,515.3h5.4v5.4h-5.4zM173.4,515.8h5.4v5.4h-5.4zM174.4,521.3h5.4v5.4h-5.4zM175.4,515.8h5.4v5.4h-5.4zM176.5,520.6h5.4v5.4h-5.4zM177.5,514.1h5.4v5.4h-5.4zM178.5,515.0h5.4v5.4h-5.4zM179.6,515.4h5.4v5.4h-5.4zM180.6,512.1h5.4v5.4h-5.4zM181.7,514.9h5.4v5.4h-5.4zM182.7,515.3h5.4v5.4h-5.4zM183.8,519.1h5.4v5.4h-5.4zM184.8,521.3h5.4v5.4h-5.4zM185.9,523.7h5.4v5.4h-5.4zM186.9,525.3h5.4v5.4h-5.4zM187.9,525.1h5.4v5.4h-5.4zM189.0,517.1h5.4v5.4h-5.4zM190.0,518.3h5.4v5.4h-5.4zM191.1,515.3h5.4v5.4h-5.4zM192.1,515.3h5.4v5.4h-5.4zM193.1,519.3h5.4v5.4h-5.4zM194.2,518.5h5.4v5.4h-5.4zM195.2,523.5h5.4v5.4h-5.4zM196.2,522.4h5.4v5.4h-5.4zM197.3,523.3h5.4v5.4h-5.4zM198.3,524.1h5.4v5.4h-5.4zM199.4,526.0h5.4v5.4h-5.4zM200.4,527.6h5.4v5.4h-5.4zM201.5,524.2h5.4v5.4h-5.4zM202.5,525.9h5.4v5.4h-5.4zM203.6,525.3h5.4v5.4h-5.4zM204.6,531.9h5.4v5.4h-5.4zM205.6,550.6h5.4v5.4h-5.4zM206.7,549.2h5.4v5.4h-5.4zM207.7,547.8h5.4v5.4h-5.4zM208.8,546.3h5.4v5.4h-5.4zM209.8,538.1h5.4v5.4h-5.4zM210.9,538.6h5.4v5.4h-5.4zM211.9,536.0h5.4v5.4h-5.4zM212.9,534.6h5.4v5.4h-5.4zM214.0,534.0h5.4v5.4h-5.4zM215.0,531.1h5.4v5.4h-5.4zM216.1,527.7h5.4v5.4h-5.4zM217.1,524.7h5.4v5.4h-5.4zM218.2,525.6h5.4v5.4h-5.4zM219.2,519.3h5.4v5.4h-5.4zM220.2,514.7h5.4v5.4h-5.4zM221.3,506.9h5.4v5.4h-5.4zM222.3,508.9h5.4v5.4h-5.4zM223.3,504.8h5.4v5.4h-5.4zM224.4,510.4h5.4v5.4h-5.4zM225.4,507.0h5.4v5.4h-5.4zM226.4,511.5h5.4v5.4h-5.4zM227.5,513.1h5.4v5.4h-5.4zM228.6,518.7h5.4v5.4h-5.4zM229.6,517.3h5.4v5.4h-5.4zM230.6,525.3h5.4v5.4h-5.4zM231.7,533.4h5.4v5.4h-5.4zM232.7,536.0h5.4v5.4h-5.4zM233.8,530.0h5.4v5.4h-5.4zM234.8,529.8h5.4v5.4h-5.4zM235.9,525.6h5.4v5.4h-5.4zM236.9,527.1h5.4v5.4h-5.4zM237.9,523.0h5.4v5.4h-5.4zM239.0,525.3h5.4v5.4h-5.4zM240.0,527.5h5.4v5.4h-5.4zM241.1,530.4h5.4v5.4h-5.4zM242.1,538.1h5.4v5.4h-5.4zM242.8,531.9h5.4v5.4h-5.4zM243.6,587.1h5.4v5.4h-5.4zM244.8,532.3h5.4v5.4h-5.4zM246.1,529.9h5.4v5.4h-5.4zM247.3,524.8h5.4v5.4h-5.4zM248.6,535.8h5.4v5.4h-5.4zM249.8,542.3h5.4v5.4h-5.4zM251.1,550.5h5.4v5.4h-5.4zM252.3,552.3h5.4v5.4h-5.4zM253.6,553.3h5.4v5.4h-5.4zM254.8,559.8h5.4v5.4h-5.4zM256.1,564.7h5.4v5.4h-5.4zM257.3,566.0h5.4v5.4h-5.4zM258.6,571.7h5.4v5.4h-5.4zM259.8,574.8h5.4v5.4h-5.4zM261.1,573.2h5.4v5.4h-5.4zM262.3,577.3h5.4v5.4h-5.4zM263.3,579.9h5.4v5.4h-5.4zM264.3,580.0h5.4v5.4h-5.4zM265.3,573.6h5.4v5.4h-5.4zM266.3,578.9h5.4v5.4h-5.4zM267.3,574.8h5.4v5.4h-5.4zM268.6,577.7h5.4v5.4h-5.4zM269.8,582.3h5.4v5.4h-5.4zM271.1,580.9h5.4v5.4h-5.4zM272.3,579.8h5.4v5.4h-5.4zM273.6,585.0h5.4v5.4h-5.4zM274.8,582.3h5.4v5.4h-5.4zM276.1,586.2h5.4v5.4h-5.4zM277.3,584.8h5.4v5.4h-5.4zM278.6,580.8h5.4v5.4h-5.4zM279.8,582.3h5.4v5.4h-5.4zM281.1,585.5h5.4v5.4h-5.4zM282.3,589.8h5.4v5.4h-5.4zM283.6,597.3h5.4v5.4h-5.4zM284.8,599.9h5.4v5.4h-5.4zM286.1,602.3h5.4v5.4h-5.4zM287.3,603.5h5.4v5.4h-5.4zM288.6,607.3h5.4v5.4h-5.4zM289.8,605.7h5.4v5.4h-5.4zM291.1,607.5h5.4v5.4h-5.4zM292.3,609.8h5.4v5.4h-5.4zM293.6,614.1h5.4v5.4h-5.4zM294.8,614.8h5.4v5.4h-5.4zM296.1,611.8h5.4v5.4h-5.4zM297.3,616.9h5.4v5.4h-5.4zM298.6,617.3h5.4v5.4h-5.4zM299.8,618.5h5.4v5.4h-5.4zM301.1,616.8h5.4v5.4h-5.4zM302.3,622.3h5.4v5.4h-5.4zM303.6,623.5h5.4v5.4h-5.4zM304.8,627.3h5.4v5.4h-5.4zM306.1,627.7h5.4v5.4h-5.4zM307.3,626.0h5.4v5.4h-5.4zM308.6,623.0h5.4v5.4h-5.4zM309.8,619.8h5.4v5.4h-5.4zM311.1,612.6h5.4v5.4h-5.4zM312.3,612.3h5.4v5.4h-5.4zM313.6,614.9h5.4v5.4h-5.4zM314.8,609.8h5.4v5.4h-5.4zM316.1,614.6h5.4v5.4h-5.4zM317.3,614.8h5.4v5.4h-5.4zM318.6,621.1h5.4v5.4h-5.4zM319.8,619.8h5.4v5.4h-5.4zM321.1,614.1h5.4v5.4h-5.4zM322.3,614.8h5.4v5.4h-5.4zM323.6,614.8h5.4v5.4h-5.4zM324.8,618.5h5.4v5.4h-5.4zM326.1,614.2h5.4v5.4h-5.4zM327.3,617.3h5.4v5.4h-5.4zM328.6,624.5h5.4v5.4h-5.4zM329.8,627.3h5.4v5.4h-5.4zM331.1,621.1h5.4v5.4h-5.4zM332.3,618.5h5.4v5.4h-5.4zM333.6,611.2h5.4v5.4h-5.4zM334.8,609.8h5.4v5.4h-5.4zM336.1,610.4h5.4v5.4h-5.4zM337.3,612.3h5.4v5.4h-5.4zM338.1,627.3h5.4v5.4h-5.4zM338.6,549.8h5.4v5.4h-5.4zM339.8,602.3h5.4v5.4h-5.4zM341.1,599.8h5.4v5.4h-5.4zM342.3,589.8h5.4v5.4h-5.4zM343.6,582.3h5.4v5.4h-5.4zM344.8,586.8h5.4v5.4h-5.4zM346.1,584.8h5.4v5.4h-5.4zM347.3,587.4h5.4v5.4h-5.4zM348.6,584.8h5.4v5.4h-5.4zM349.8,582.0h5.4v5.4h-5.4zM351.1,580.3h5.4v5.4h-5.4zM352.3,582.3h5.4v5.4h-5.4zM353.6,588.2h5.4v5.4h-5.4zM354.8,587.3h5.4v5.4h-5.4zM356.1,589.1h5.4v5.4h-5.4zM357.3,589.8h5.4v5.4h-5.4zM358.6,593.9h5.4v5.4h-5.4zM359.8,594.8h5.4v5.4h-5.4zM361.1,593.2h5.4v5.4h-5.4zM362.3,594.6h5.4v5.4h-5.4zM363.6,599.8h5.4v5.4h-5.4zM364.8,599.6h5.4v5.4h-5.4zM366.1,595.9h5.4v5.4h-5.4zM367.3,594.8h5.4v5.4h-5.4zM368.6,595.1h5.4v5.4h-5.4zM369.8,602.3h5.4v5.4h-5.4zM371.1,606.6h5.4v5.4h-5.4zM372.3,605.0h5.4v5.4h-5.4zM373.6,604.8h5.4v5.4h-5.4zM374.6,607.7h5.4v5.4h-5.4zM375.6,602.5h5.4v5.4h-5.4zM376.6,609.1h5.4v5.4h-5.4zM377.6,603.3h5.4v5.4h-5.4zM378.6,607.3h5.4v5.4h-5.4zM379.8,614.0h5.4v5.4h-5.4zM381.1,614.8h5.4v5.4h-5.4zM382.3,616.9h5.4v5.4h-5.4zM383.6,619.8h5.4v5.4h-5.4zM384.8,616.8h5.4v5.4h-5.4zM386.1,616.9h5.4v5.4h-5.4zM387.3,614.8h5.4v5.4h-5.4zM388.3,618.7h5.4v5.4h-5.4zM389.3,613.9h5.4v5.4h-5.4zM390.3,613.3h5.4v5.4h-5.4zM391.3,617.0h5.4v5.4h-5.4zM392.3,617.3h5.4v5.4h-5.4zM393.6,614.8h5.4v5.4h-5.4zM394.8,613.3h5.4v5.4h-5.4zM396.1,616.0h5.4v5.4h-5.4zM397.3,615.8h5.4v5.4h-5.4zM398.6,621.0h5.4v5.4h-5.4zM399.8,620.6h5.4v5.4h-5.4zM401.1,627.3h5.4v5.4h-5.4zM402.3,622.4h5.4v5.4h-5.4zM403.6,622.3h5.4v5.4h-5.4zM404.6,619.1h5.4v5.4h-5.4zM405.7,617.4h5.4v5.4h-5.4zM406.8,617.3h5.4v5.4h-5.4zM408.6,607.3h5.4v5.4h-5.4zM409.8,606.3h5.4v5.4h-5.4zM411.1,601.0h5.4v5.4h-5.4zM412.3,602.5h5.4v5.4h-5.4zM413.6,607.3h5.4v5.4h-5.4zM414.8,611.1h5.4v5.4h-5.4zM416.1,614.8h5.4v5.4h-5.4zM417.3,613.1h5.4v5.4h-5.4zM418.6,615.2h5.4v5.4h-5.4zM419.8,617.3h5.4v5.4h-5.4zM420.8,613.4h5.4v5.4h-5.4zM421.8,615.3h5.4v5.4h-5.4zM422.8,617.3h5.4v5.4h-5.4zM423.9,614.7h5.4v5.4h-5.4zM425.0,621.7h5.4v5.4h-5.4zM426.1,621.0h5.4v5.4h-5.4z" fill="#dd2020" stroke="#4a0808" stroke-width="0.6"/>
<rect x="55.5" y="645.5" width="377.5" height="26.5" fill="#8a8a8a"/>
<rect x="57.7" y="645" width="187.3" height="24.5" fill="#fff" stroke="#222" stroke-width="1.2"/>
<rect x="245" y="645" width="187.5" height="24.5" fill="#6e6e6e" stroke="#222" stroke-width="1.2"/>
<text x="152.5" y="662.7" font-size="12.5" text-anchor="middle">LFD 10% Fat kCal</text>
<text x="337.7" y="662.7" font-size="12.5" text-anchor="middle" fill="#eee">HFD 45% Fat kCal</text>
<line x1="55.5" y1="380" x2="55.5" y2="672.5" stroke="#000" stroke-width="1.4"/>
<line x1="54.8" y1="380.6" x2="429.5" y2="380.6" stroke="#000" stroke-width="1.6"/>
<line x1="54.8" y1="672" x2="429" y2="672" stroke="#000" stroke-width="1.2"/>
<line x1="52.4" y1="380.7" x2="55.5" y2="380.7" stroke="#000" stroke-width="1"/>
<text x="48" y="384.8" font-size="12.5" text-anchor="end">1.1</text>
<line x1="52.4" y1="453.5" x2="55.5" y2="453.5" stroke="#000" stroke-width="1"/>
<text x="48" y="457.6" font-size="12.5" text-anchor="end">1.0</text>
<line x1="52.4" y1="526" x2="55.5" y2="526" stroke="#000" stroke-width="1"/>
<text x="48" y="530.1" font-size="12.5" text-anchor="end">0.9</text>
<line x1="52.4" y1="598.8" x2="55.5" y2="598.8" stroke="#000" stroke-width="1"/>
<text x="48" y="602.9" font-size="12.5" text-anchor="end">0.8</text>
<line x1="52.4" y1="671.8" x2="55.5" y2="671.8" stroke="#000" stroke-width="1"/>
<text x="48" y="675.9" font-size="12.5" text-anchor="end">0.7</text>
<text x="24.7" y="527" font-size="12.3" text-anchor="middle" transform="rotate(-90 24.7 527)">Respiratory Quotient</text>
<rect x="55.199999999999996" y="361" width="2.4" height="10" fill="#000"/>
<path d="M51.9,370.2 L60.9,370.2 L56.4,379.1 Z" fill="#000"/>
<rect x="150.60000000000002" y="361" width="2.4" height="10" fill="#000"/>
<path d="M147.3,370.2 L156.3,370.2 L151.8,379.1 Z" fill="#000"/>
<rect x="243.10000000000002" y="361" width="2.4" height="10" fill="#000"/>
<path d="M239.8,370.2 L248.8,370.2 L244.3,379.1 Z" fill="#000"/>
<rect x="337.8" y="361" width="2.4" height="10" fill="#000"/>
<path d="M334.5,370.2 L343.5,370.2 L339,379.1 Z" fill="#000"/>
<rect x="425.2" y="361" width="2.4" height="10" fill="#000"/>
<path d="M421.9,370.2 L430.9,370.2 L426.4,379.1 Z" fill="#000"/>
<text x="100.6" y="364.8" font-size="12" text-anchor="middle">LFD day1</text>
<text x="198" y="364.8" font-size="12" text-anchor="middle">LFD day2</text>
<text x="290.3" y="364.8" font-size="12" text-anchor="middle">HFD day1</text>
<text x="383.2" y="364.8" font-size="12" text-anchor="middle">HFD day2</text>
<text x="65.7" y="377.6" font-size="12">6pm</text>
<text x="113.4" y="377.6" font-size="12">6am</text>
<text x="160.3" y="377.6" font-size="12">6pm</text>
<text x="208.4" y="377.6" font-size="12">6am</text>
<text x="254.9" y="377.6" font-size="12">6pm</text>
<text x="301.7" y="377.6" font-size="12">6am</text>
<text x="348.3" y="377.6" font-size="12">6pm</text>
<text x="395.7" y="377.6" font-size="12">6am</text>
<line x1="74" y1="395.3" x2="91" y2="395.3" stroke="#000" stroke-width="1.5"/>
<rect x="80" y="392.8" width="5" height="5" fill="#000"/>
<line x1="74" y1="408.5" x2="91" y2="408.5" stroke="#000" stroke-width="1.5"/>
<rect x="80" y="406" width="5" height="5" fill="#dd2020" stroke="#4a0808" stroke-width="0.6"/>
<text x="96.2" y="400.6" font-size="12" font-weight="bold">WT</text>
<text x="96.2" y="413.6" font-size="12" font-weight="bold">AZIP</text>
<text x="1" y="359.2" font-size="28.5" font-weight="bold">B</text>
<text x="459.8" y="359.2" font-size="28.5" text-anchor="start" font-weight="bold" fill="#000" >C</text>
<rect x="522.1" y="398.2" width="18.799999999999955" height="100.5" fill="#000" />
<line x1="531.5" y1="398.2" x2="531.5" y2="396.1" stroke="#000" stroke-width="1.5"/>
<line x1="527.1" y1="396.1" x2="535.9" y2="396.1" stroke="#000" stroke-width="1.5"/>
<rect x="547.3" y="409.5" width="18.40000000000009" height="89.19999999999999" fill="#cc1a1e" />
<line x1="556.5" y1="409.5" x2="556.5" y2="406" stroke="#cc1a1e" stroke-width="1.5"/>
<line x1="552.1" y1="406" x2="560.9" y2="406" stroke="#cc1a1e" stroke-width="1.5"/>
<rect x="588.8" y="413.2" width="18.5" height="85.5" fill="#000" />
<line x1="598.05" y1="413.2" x2="598.05" y2="410.3" stroke="#000" stroke-width="1.5"/>
<line x1="593.65" y1="410.3" x2="602.4499999999999" y2="410.3" stroke="#000" stroke-width="1.5"/>
<rect x="613.9" y="457" width="18.100000000000023" height="41.69999999999999" fill="#cc1a1e" />
<line x1="622.95" y1="457" x2="622.95" y2="449.2" stroke="#cc1a1e" stroke-width="1.5"/>
<line x1="618.5500000000001" y1="449.2" x2="627.35" y2="449.2" stroke="#cc1a1e" stroke-width="1.5"/>
<line x1="511" y1="365.3" x2="511" y2="499.5" stroke="#000" stroke-width="1.6"/>
<line x1="510.2" y1="498.7" x2="639" y2="498.7" stroke="#000" stroke-width="1.6"/>
<line x1="507" y1="366.1" x2="511" y2="366.1" stroke="#000" stroke-width="1.4"/>
<text x="505.5" y="370.70000000000005" font-size="13" text-anchor="end" font-weight="normal" fill="#000" >1.0</text>
<line x1="507" y1="410.7" x2="511" y2="410.7" stroke="#000" stroke-width="1.4"/>
<text x="505.5" y="415.3" font-size="13" text-anchor="end" font-weight="normal" fill="#000" >0.9</text>
<line x1="507" y1="455" x2="511" y2="455" stroke="#000" stroke-width="1.4"/>
<text x="505.5" y="459.6" font-size="13" text-anchor="end" font-weight="normal" fill="#000" >0.8</text>
<line x1="507" y1="498.9" x2="511" y2="498.9" stroke="#000" stroke-width="1.4"/>
<text x="505.5" y="503.5" font-size="13" text-anchor="end" font-weight="normal" fill="#000" >0.7</text>
<line x1="543.4" y1="498.7" x2="543.4" y2="502.5" stroke="#000" stroke-width="1.4"/>
<line x1="610.3" y1="498.7" x2="610.3" y2="502.5" stroke="#000" stroke-width="1.4"/>
<text x="543.5" y="514.7" font-size="13" text-anchor="middle" font-weight="normal" fill="#000" >LFD</text>
<text x="610.3" y="514.7" font-size="13" text-anchor="middle" font-weight="normal" fill="#000" >HFD</text>
<text x="612.5" y="444" font-size="13.8" text-anchor="start" font-weight="normal" fill="#000" letter-spacing="1.5" style="stroke-width:0.55px">***</text>
<rect x="590.3" y="364.7" width="15.7" height="10.9" fill="#000" />
<rect x="590.3" y="380" width="15.7" height="10.9" fill="#cc1a1e" />
<text x="613.6" y="375" font-size="13" text-anchor="start" font-weight="normal" fill="#000" >WT</text>
<text x="613.6" y="390.3" font-size="13" text-anchor="start" font-weight="normal" fill="#000" >AZIP</text>
<text x="481.5" y="430.7" font-size="12.7" text-anchor="middle" font-weight="normal" fill="#000" transform="rotate(-90 481.5 430.7)" >RQ (entire day 2)</text>
<text x="650" y="359.2" font-size="28.5" text-anchor="start" font-weight="bold" fill="#000" >D</text>
<rect x="715.1" y="364.7" width="27.7" height="29.0" fill="#000" />
<rect x="754.5" y="364.7" width="27.2" height="103.40000000000003" fill="#cc1a1e" />
<line x1="728.8" y1="393.7" x2="728.8" y2="401.6" stroke="#000" stroke-width="1.7"/>
<line x1="722" y1="401.6" x2="735.6" y2="401.6" stroke="#000" stroke-width="1.7"/>
<line x1="768.1" y1="468.1" x2="768.1" y2="478.2" stroke="#cc1a1e" stroke-width="1.7"/>
<line x1="761.3" y1="478.2" x2="774.9" y2="478.2" stroke="#cc1a1e" stroke-width="1.7"/>
<line x1="709.6" y1="364" x2="709.6" y2="498.6" stroke="#000" stroke-width="1.6"/>
<line x1="705.7" y1="364.7" x2="788" y2="364.7" stroke="#000" stroke-width="1.8"/>
<line x1="708.8" y1="497.8" x2="787.5" y2="497.8" stroke="#000" stroke-width="1.6"/>
<line x1="705.7" y1="364.7" x2="709.6" y2="364.7" stroke="#000" stroke-width="1.4"/>
<text x="704" y="369.2" font-size="12.8" text-anchor="end" font-weight="normal" fill="#000" >0.00</text>
<line x1="705.7" y1="409.5" x2="709.6" y2="409.5" stroke="#000" stroke-width="1.4"/>
<text x="704" y="414.0" font-size="12.8" text-anchor="end" font-weight="normal" fill="#000" >-0.05</text>
<line x1="705.7" y1="453.8" x2="709.6" y2="453.8" stroke="#000" stroke-width="1.4"/>
<text x="704" y="458.3" font-size="12.8" text-anchor="end" font-weight="normal" fill="#000" >-0.10</text>
<line x1="705.7" y1="498.1" x2="709.6" y2="498.1" stroke="#000" stroke-width="1.4"/>
<text x="704" y="502.6" font-size="12.8" text-anchor="end" font-weight="normal" fill="#000" >-0.15</text>
<line x1="728.8" y1="497.8" x2="728.8" y2="501.5" stroke="#000" stroke-width="1.4"/>
<line x1="767.8" y1="497.8" x2="767.8" y2="501.5" stroke="#000" stroke-width="1.4"/>
<text x="728.8" y="513.2" font-size="13" text-anchor="middle" font-weight="normal" fill="#000" >WT</text>
<text x="768.3" y="513.2" font-size="13" text-anchor="middle" font-weight="normal" fill="#000" >AZIP</text>
<text x="758.8" y="495" font-size="14" text-anchor="start" font-weight="normal" fill="#000" letter-spacing="1.5" style="stroke-width:0.55px">***</text>
<text x="666.6" y="429.6" font-size="13" text-anchor="middle" font-weight="normal" fill="#000" transform="rotate(-90 666.6 429.6)" >Delta RQ</text>
<text x="459.7" y="532" font-size="28.5" text-anchor="start" font-weight="bold" fill="#000" >E</text>
<rect x="516.7" y="563.2" width="27.7" height="98.79999999999995" fill="#000" />
<rect x="556" y="655" width="27.2" height="7" fill="#cc1a1e" />
<line x1="531" y1="563.2" x2="531" y2="553.3" stroke="#000" stroke-width="1.7"/>
<line x1="524.2" y1="553.3" x2="537.9" y2="553.3" stroke="#000" stroke-width="1.7"/>
<line x1="569.6" y1="655" x2="569.6" y2="643" stroke="#cc1a1e" stroke-width="1.7"/>
<line x1="562.8" y1="643" x2="576.4" y2="643" stroke="#cc1a1e" stroke-width="1.7"/>
<line x1="511" y1="528" x2="511" y2="662.8" stroke="#000" stroke-width="1.6"/>
<line x1="510.2" y1="662" x2="588.8" y2="662" stroke="#000" stroke-width="1.6"/>
<line x1="507" y1="528.8" x2="511" y2="528.8" stroke="#000" stroke-width="1.4"/>
<text x="505.5" y="533.4" font-size="13" text-anchor="end" font-weight="normal" fill="#000" >2.0</text>
<line x1="507" y1="562.2" x2="511" y2="562.2" stroke="#000" stroke-width="1.4"/>
<text x="505.5" y="566.8000000000001" font-size="13" text-anchor="end" font-weight="normal" fill="#000" >1.5</text>
<line x1="507" y1="595.7" x2="511" y2="595.7" stroke="#000" stroke-width="1.4"/>
<text x="505.5" y="600.3000000000001" font-size="13" text-anchor="end" font-weight="normal" fill="#000" >1.0</text>
<line x1="507" y1="628.9" x2="511" y2="628.9" stroke="#000" stroke-width="1.4"/>
<text x="505.5" y="633.5" font-size="13" text-anchor="end" font-weight="normal" fill="#000" >0.5</text>
<line x1="507" y1="662" x2="511" y2="662" stroke="#000" stroke-width="1.4"/>
<text x="505.5" y="666.6" font-size="13" text-anchor="end" font-weight="normal" fill="#000" >0.0</text>
<line x1="530.4" y1="662" x2="530.4" y2="665.5" stroke="#000" stroke-width="1.4"/>
<line x1="569.6" y1="662" x2="569.6" y2="665.5" stroke="#000" stroke-width="1.4"/>
<text x="530.8" y="678.2" font-size="13" text-anchor="middle" font-weight="normal" fill="#000" >WT</text>
<text x="570.2" y="678.2" font-size="13" text-anchor="middle" font-weight="normal" fill="#000" >AZIP</text>
<text x="560.6" y="639" font-size="13.8" text-anchor="start" font-weight="normal" fill="#000" letter-spacing="1.5" style="stroke-width:0.55px">***</text>
<text x="481.9" y="595.5" font-size="13.5" text-anchor="middle" font-weight="normal" fill="#000" transform="rotate(-90 481.9 595.5)" >Delta body weight (g)</text>
<text x="7.2" y="747" font-size="28.5" text-anchor="start" font-weight="bold" fill="#000" >F</text>
<line x1="77.1" y1="784.9" x2="77.1" y2="919.5" stroke="#000" stroke-width="1.6"/>
<line x1="48.2" y1="918.7" x2="248.6" y2="918.7" stroke="#000" stroke-width="1.6"/>
<line x1="73.3" y1="918.7" x2="77.1" y2="918.7" stroke="#000" stroke-width="1.4"/>
<line x1="73.3" y1="885.4250000000001" x2="77.1" y2="885.4250000000001" stroke="#000" stroke-width="1.4"/>
<text x="58.8" y="889.6250000000001" font-size="12.8" text-anchor="end" font-weight="normal" fill="#000" >10</text>
<line x1="73.3" y1="852.1500000000001" x2="77.1" y2="852.1500000000001" stroke="#000" stroke-width="1.4"/>
<text x="58.8" y="856.3500000000001" font-size="12.8" text-anchor="end" font-weight="normal" fill="#000" >20</text>
<line x1="73.3" y1="818.875" x2="77.1" y2="818.875" stroke="#000" stroke-width="1.4"/>
<text x="58.8" y="823.075" font-size="12.8" text-anchor="end" font-weight="normal" fill="#000" >30</text>
<line x1="73.3" y1="785.6" x2="77.1" y2="785.6" stroke="#000" stroke-width="1.4"/>
<text x="58.8" y="789.8000000000001" font-size="12.8" text-anchor="end" font-weight="normal" fill="#000" >40</text>
<line x1="48.379999999999995" y1="918.7" x2="48.379999999999995" y2="922" stroke="#000" stroke-width="1.4"/>
<text x="47.58" y="935.1" font-size="12.6" text-anchor="middle" font-weight="normal" fill="#000" >-30</text>
<line x1="77.0" y1="918.7" x2="77.0" y2="922" stroke="#000" stroke-width="1.4"/>
<text x="77.0" y="935.1" font-size="12.6" text-anchor="middle" font-weight="normal" fill="#000" >0</text>
<line x1="105.62" y1="918.7" x2="105.62" y2="922" stroke="#000" stroke-width="1.4"/>
<text x="105.62" y="935.1" font-size="12.6" text-anchor="middle" font-weight="normal" fill="#000" >30</text>
<line x1="134.24" y1="918.7" x2="134.24" y2="922" stroke="#000" stroke-width="1.4"/>
<text x="134.24" y="935.1" font-size="12.6" text-anchor="middle" font-weight="normal" fill="#000" >60</text>
<line x1="162.86" y1="918.7" x2="162.86" y2="922" stroke="#000" stroke-width="1.4"/>
<text x="162.86" y="935.1" font-size="12.6" text-anchor="middle" font-weight="normal" fill="#000" >90</text>
<line x1="191.48000000000002" y1="918.7" x2="191.48000000000002" y2="922" stroke="#000" stroke-width="1.4"/>
<text x="191.48000000000002" y="935.1" font-size="12.6" text-anchor="middle" font-weight="normal" fill="#000" >120</text>
<line x1="220.1" y1="918.7" x2="220.1" y2="922" stroke="#000" stroke-width="1.4"/>
<text x="220.1" y="935.1" font-size="12.6" text-anchor="middle" font-weight="normal" fill="#000" >150</text>
<line x1="248.72" y1="918.7" x2="248.72" y2="922" stroke="#000" stroke-width="1.4"/>
<text x="248.72" y="935.1" font-size="12.6" text-anchor="middle" font-weight="normal" fill="#000" >180</text>
<text x="149.5" y="957.4" font-size="12.9" text-anchor="middle" font-weight="normal" fill="#000" >Time (min)</text>
<text x="39.4" y="850.1" font-size="14.6" text-anchor="middle" font-weight="normal" fill="#000" transform="rotate(-90 39.4 850.1)" >Blood glucose (mmol/L)</text>
<polyline points="62.7,889.8 77.0,886.4 91.3,893.9 105.6,898.1 119.9,903.2 134.2,905.1 162.9,904.4 191.5,905.1 220.1,902.7" stroke="#000" stroke-width="1.7" fill="none"/>
<rect x="59.8" y="886.9" width="5.8" height="5.8" fill="#fff" stroke="#000" stroke-width="1.6"/>
<rect x="74.1" y="883.5" width="5.8" height="5.8" fill="#fff" stroke="#000" stroke-width="1.6"/>
<rect x="88.4" y="891.0" width="5.8" height="5.8" fill="#fff" stroke="#000" stroke-width="1.6"/>
<rect x="102.7" y="895.2" width="5.8" height="5.8" fill="#fff" stroke="#000" stroke-width="1.6"/>
<rect x="117.0" y="900.3" width="5.8" height="5.8" fill="#fff" stroke="#000" stroke-width="1.6"/>
<rect x="131.3" y="902.2" width="5.8" height="5.8" fill="#fff" stroke="#000" stroke-width="1.6"/>
<rect x="160.0" y="901.5" width="5.8" height="5.8" fill="#fff" stroke="#000" stroke-width="1.6"/>
<rect x="188.6" y="902.2" width="5.8" height="5.8" fill="#fff" stroke="#000" stroke-width="1.6"/>
<rect x="217.2" y="899.8" width="5.8" height="5.8" fill="#fff" stroke="#000" stroke-width="1.6"/>
<polyline points="62.7,882.8 77.0,884.4 91.3,888.4 105.6,894.7 119.9,893.7 134.2,892.4 162.9,889.8 191.5,889.1 220.1,889.1" stroke="#000" stroke-width="1.7" fill="none"/>
<rect x="59.7" y="879.8" width="6" height="6" fill="#000"/>
<rect x="74.0" y="881.4" width="6" height="6" fill="#000"/>
<rect x="88.3" y="885.4" width="6" height="6" fill="#000"/>
<rect x="102.6" y="891.7" width="6" height="6" fill="#000"/>
<rect x="116.9" y="890.7" width="6" height="6" fill="#000"/>
<rect x="131.2" y="889.4" width="6" height="6" fill="#000"/>
<rect x="159.9" y="886.8" width="6" height="6" fill="#000"/>
<rect x="188.5" y="886.1" width="6" height="6" fill="#000"/>
<rect x="217.1" y="886.1" width="6" height="6" fill="#000"/>
<polyline points="62.7,882.1 77.0,877.4 91.3,877.1 105.6,880.8 119.9,887.1 134.2,888.1 162.9,894.7 191.5,895.4 220.1,900.1" stroke="#cc1a1e" stroke-width="1.7" fill="none"/>
<path d="M62.7,885.4V878.8M60.0,885.4h5.4M60.0,878.8h5.4" stroke="#cc1a1e" stroke-width="1.6" fill="none"/>
<rect x="59.8" y="879.2" width="5.8" height="5.8" fill="#fff" stroke="#cc1a1e" stroke-width="1.6"/>
<path d="M77.0,882.1V872.8M74.3,882.1h5.4M74.3,872.8h5.4" stroke="#cc1a1e" stroke-width="1.6" fill="none"/>
<rect x="74.1" y="874.5" width="5.8" height="5.8" fill="#fff" stroke="#cc1a1e" stroke-width="1.6"/>
<path d="M91.3,883.8V870.5M88.6,883.8h5.4M88.6,870.5h5.4" stroke="#cc1a1e" stroke-width="1.6" fill="none"/>
<rect x="88.4" y="874.2" width="5.8" height="5.8" fill="#fff" stroke="#cc1a1e" stroke-width="1.6"/>
<path d="M105.6,887.4V874.1M102.9,887.4h5.4M102.9,874.1h5.4" stroke="#cc1a1e" stroke-width="1.6" fill="none"/>
<rect x="102.7" y="877.9" width="5.8" height="5.8" fill="#fff" stroke="#cc1a1e" stroke-width="1.6"/>
<path d="M119.9,891.4V882.8M117.2,891.4h5.4M117.2,882.8h5.4" stroke="#cc1a1e" stroke-width="1.6" fill="none"/>
<rect x="117.0" y="884.2" width="5.8" height="5.8" fill="#fff" stroke="#cc1a1e" stroke-width="1.6"/>
<path d="M134.2,891.4V884.8M131.5,891.4h5.4M131.5,884.8h5.4" stroke="#cc1a1e" stroke-width="1.6" fill="none"/>
<rect x="131.3" y="885.2" width="5.8" height="5.8" fill="#fff" stroke="#cc1a1e" stroke-width="1.6"/>
<path d="M162.9,897.7V891.7M160.2,897.7h5.4M160.2,891.7h5.4" stroke="#cc1a1e" stroke-width="1.6" fill="none"/>
<rect x="160.0" y="891.8" width="5.8" height="5.8" fill="#fff" stroke="#cc1a1e" stroke-width="1.6"/>
<path d="M191.5,898.7V892.1M188.8,898.7h5.4M188.8,892.1h5.4" stroke="#cc1a1e" stroke-width="1.6" fill="none"/>
<rect x="188.6" y="892.5" width="5.8" height="5.8" fill="#fff" stroke="#cc1a1e" stroke-width="1.6"/>
<path d="M220.1,904.4V895.7M217.4,904.4h5.4M217.4,895.7h5.4" stroke="#cc1a1e" stroke-width="1.6" fill="none"/>
<rect x="217.2" y="897.2" width="5.8" height="5.8" fill="#fff" stroke="#cc1a1e" stroke-width="1.6"/>
<polyline points="62.7,816.2 77.0,819.5 91.3,822.9 105.6,832.9 119.9,835.2 134.2,845.2 162.9,844.8 191.5,846.5 220.1,847.8" stroke="#cc1a1e" stroke-width="1.7" fill="none"/>
<path d="M62.7,820.9V811.6M60.0,820.9h5.4M60.0,811.6h5.4" stroke="#cc1a1e" stroke-width="1.6" fill="none"/>
<rect x="59.7" y="813.2" width="6" height="6" fill="#cc1a1e"/>
<path d="M77.0,823.2V815.9M74.3,823.2h5.4M74.3,815.9h5.4" stroke="#cc1a1e" stroke-width="1.6" fill="none"/>
<rect x="74.0" y="816.5" width="6" height="6" fill="#cc1a1e"/>
<path d="M91.3,830.2V815.5M88.6,830.2h5.4M88.6,815.5h5.4" stroke="#cc1a1e" stroke-width="1.6" fill="none"/>
<rect x="88.3" y="819.9" width="6" height="6" fill="#cc1a1e"/>
<path d="M105.6,837.5V828.2M102.9,837.5h5.4M102.9,828.2h5.4" stroke="#cc1a1e" stroke-width="1.6" fill="none"/>
<rect x="102.6" y="829.9" width="6" height="6" fill="#cc1a1e"/>
<path d="M119.9,839.5V830.9M117.2,839.5h5.4M117.2,830.9h5.4" stroke="#cc1a1e" stroke-width="1.6" fill="none"/>
<rect x="116.9" y="832.2" width="6" height="6" fill="#cc1a1e"/>
<path d="M134.2,850.2V840.2M131.5,850.2h5.4M131.5,840.2h5.4" stroke="#cc1a1e" stroke-width="1.6" fill="none"/>
<rect x="131.2" y="842.2" width="6" height="6" fill="#cc1a1e"/>
<path d="M162.9,849.2V840.5M160.2,849.2h5.4M160.2,840.5h5.4" stroke="#cc1a1e" stroke-width="1.6" fill="none"/>
<rect x="159.9" y="841.8" width="6" height="6" fill="#cc1a1e"/>
<path d="M191.5,850.5V842.5M188.8,850.5h5.4M188.8,842.5h5.4" stroke="#cc1a1e" stroke-width="1.6" fill="none"/>
<rect x="188.5" y="843.5" width="6" height="6" fill="#cc1a1e"/>
<path d="M220.1,851.8V843.8M217.4,851.8h5.4M217.4,843.8h5.4" stroke="#cc1a1e" stroke-width="1.6" fill="none"/>
<rect x="217.1" y="844.8" width="6" height="6" fill="#cc1a1e"/>
<line x1="85.2" y1="788.5" x2="98.60000000000001" y2="788.5" stroke="#000" stroke-width="1.7"/>
<rect x="89.10000000000001" y="785.7" width="5.6" height="5.6" fill="#fff" stroke="#000" stroke-width="1.6"/>
<text x="106.2" y="792.5" font-size="11.2" text-anchor="start" font-weight="normal" fill="#000" >WT LFD</text>
<line x1="167.8" y1="788.5" x2="181.20000000000002" y2="788.5" stroke="#000" stroke-width="1.7"/>
<rect x="171.6" y="785.6" width="5.8" height="5.8" fill="#000" />
<text x="188.8" y="792.5" font-size="11.2" text-anchor="start" font-weight="normal" fill="#000" >WT HFD</text>
<line x1="85.2" y1="803.9" x2="98.60000000000001" y2="803.9" stroke="#cc1a1e" stroke-width="1.7"/>
<rect x="89.10000000000001" y="801.1" width="5.6" height="5.6" fill="#fff" stroke="#cc1a1e" stroke-width="1.6"/>
<text x="106.2" y="807.9" font-size="11.2" text-anchor="start" font-weight="normal" fill="#000" >Azip LFD</text>
<line x1="167.8" y1="803.9" x2="181.20000000000002" y2="803.9" stroke="#cc1a1e" stroke-width="1.7"/>
<rect x="171.6" y="801.0" width="5.8" height="5.8" fill="#cc1a1e" />
<text x="188.8" y="807.9" font-size="11.2" text-anchor="start" font-weight="normal" fill="#000" >Azip HFD</text>
<text x="254.4" y="747.3" font-size="28.5" text-anchor="start" font-weight="bold" fill="#000" >G</text>
<line x1="330.15" y1="898.4200000000001" x2="330.15" y2="897.58875" stroke="#000" stroke-width="1.6"/>
<line x1="325.65" y1="897.58875" x2="334.65" y2="897.58875" stroke="#000" stroke-width="1.6"/>
<rect x="321.8" y="899.22" width="16.70000000000001" height="20.479999999999972" fill="url(#hatchGk)" stroke="#000" stroke-width="1.6"/>
<line x1="356.5" y1="883.7900000000001" x2="356.5" y2="882.7925" stroke="#000" stroke-width="1.6"/>
<line x1="352.0" y1="882.7925" x2="361.0" y2="882.7925" stroke="#000" stroke-width="1.6"/>
<rect x="347.1" y="883.7900000000001" width="18.799999999999955" height="35.90999999999997" fill="#000" />
<line x1="382.54999999999995" y1="882.7925" x2="382.54999999999995" y2="878.96875" stroke="#cc1a1e" stroke-width="1.6"/>
<line x1="378.04999999999995" y1="878.96875" x2="387.04999999999995" y2="878.96875" stroke="#cc1a1e" stroke-width="1.6"/>
<rect x="374.2" y="883.5925" width="16.70000000000001" height="36.10750000000003" fill="url(#hatchGr)" stroke="#cc1a1e" stroke-width="1.6"/>
<line x1="408.5" y1="820.78125" x2="408.5" y2="817.2900000000001" stroke="#cc1a1e" stroke-width="1.6"/>
<line x1="404.0" y1="817.2900000000001" x2="413.0" y2="817.2900000000001" stroke="#cc1a1e" stroke-width="1.6"/>
<rect x="399.1" y="820.78125" width="18.799999999999955" height="98.91875000000005" fill="#cc1a1e" />
<line x1="317" y1="786" x2="317" y2="920.5" stroke="#000" stroke-width="1.6"/>
<line x1="314" y1="919.7" x2="421.7" y2="919.7" stroke="#000" stroke-width="1.6"/>
<line x1="313.7" y1="919.7" x2="317" y2="919.7" stroke="#000" stroke-width="1.4"/>
<text x="311.4" y="923.6" font-size="12.5" text-anchor="end" font-weight="normal" fill="#000" >0</text>
<line x1="313.7" y1="886.45" x2="317" y2="886.45" stroke="#000" stroke-width="1.4"/>
<text x="311.4" y="890.35" font-size="12.5" text-anchor="end" font-weight="normal" fill="#000" >20</text>
<line x1="313.7" y1="853.2" x2="317" y2="853.2" stroke="#000" stroke-width="1.4"/>
<text x="311.4" y="857.1" font-size="12.5" text-anchor="end" font-weight="normal" fill="#000" >40</text>
<line x1="313.7" y1="819.95" x2="317" y2="819.95" stroke="#000" stroke-width="1.4"/>
<text x="311.4" y="823.85" font-size="12.5" text-anchor="end" font-weight="normal" fill="#000" >60</text>
<line x1="313.7" y1="786.7" x2="317" y2="786.7" stroke="#000" stroke-width="1.4"/>
<text x="311.4" y="790.6" font-size="12.5" text-anchor="end" font-weight="normal" fill="#000" >80</text>
<line x1="330" y1="919.7" x2="330" y2="922.9" stroke="#000" stroke-width="1.4"/>
<line x1="356.5" y1="919.7" x2="356.5" y2="922.9" stroke="#000" stroke-width="1.4"/>
<line x1="382.6" y1="919.7" x2="382.6" y2="922.9" stroke="#000" stroke-width="1.4"/>
<line x1="408.5" y1="919.7" x2="408.5" y2="922.9" stroke="#000" stroke-width="1.4"/>
<text x="330.2" y="933.9" font-size="11" text-anchor="middle" font-weight="normal" fill="#000" letter-spacing="0.5">LFD</text>
<text x="356.6" y="933.9" font-size="11" text-anchor="middle" font-weight="normal" fill="#000" letter-spacing="0.5">HFD</text>
<text x="382.7" y="933.9" font-size="11" text-anchor="middle" font-weight="normal" fill="#000" letter-spacing="0.5">LFD</text>
<text x="409" y="933.9" font-size="11" text-anchor="middle" font-weight="normal" fill="#000" letter-spacing="0.5">HFD</text>
<line x1="322.3" y1="941.9" x2="363.6" y2="941.9" stroke="#000" stroke-width="2"/>
<line x1="376.9" y1="941.9" x2="418.6" y2="941.9" stroke="#000" stroke-width="2"/>
<text x="343.5" y="955.2" font-size="12.6" text-anchor="middle" font-weight="normal" fill="#000" >WT</text>
<text x="397.7" y="955.2" font-size="13.2" text-anchor="middle" font-weight="normal" fill="#cc1a1e" >AZIP</text>
<text x="349.0" y="876.3" font-size="17.5" text-anchor="start" font-weight="normal" fill="#000" letter-spacing="1" style="stroke-width:0.6px">**</text>
<text x="397.2" y="813.2" font-size="18" text-anchor="start" font-weight="normal" fill="#000" letter-spacing="1.2" style="stroke-width:0.6px">***</text>
<text x="289.5" y="851.2" font-size="14.3" text-anchor="middle" font-weight="normal" fill="#000" transform="rotate(-90 289.5 851.2)" >AUC (arbitrary value)</text>
</svg>
</body></html>
